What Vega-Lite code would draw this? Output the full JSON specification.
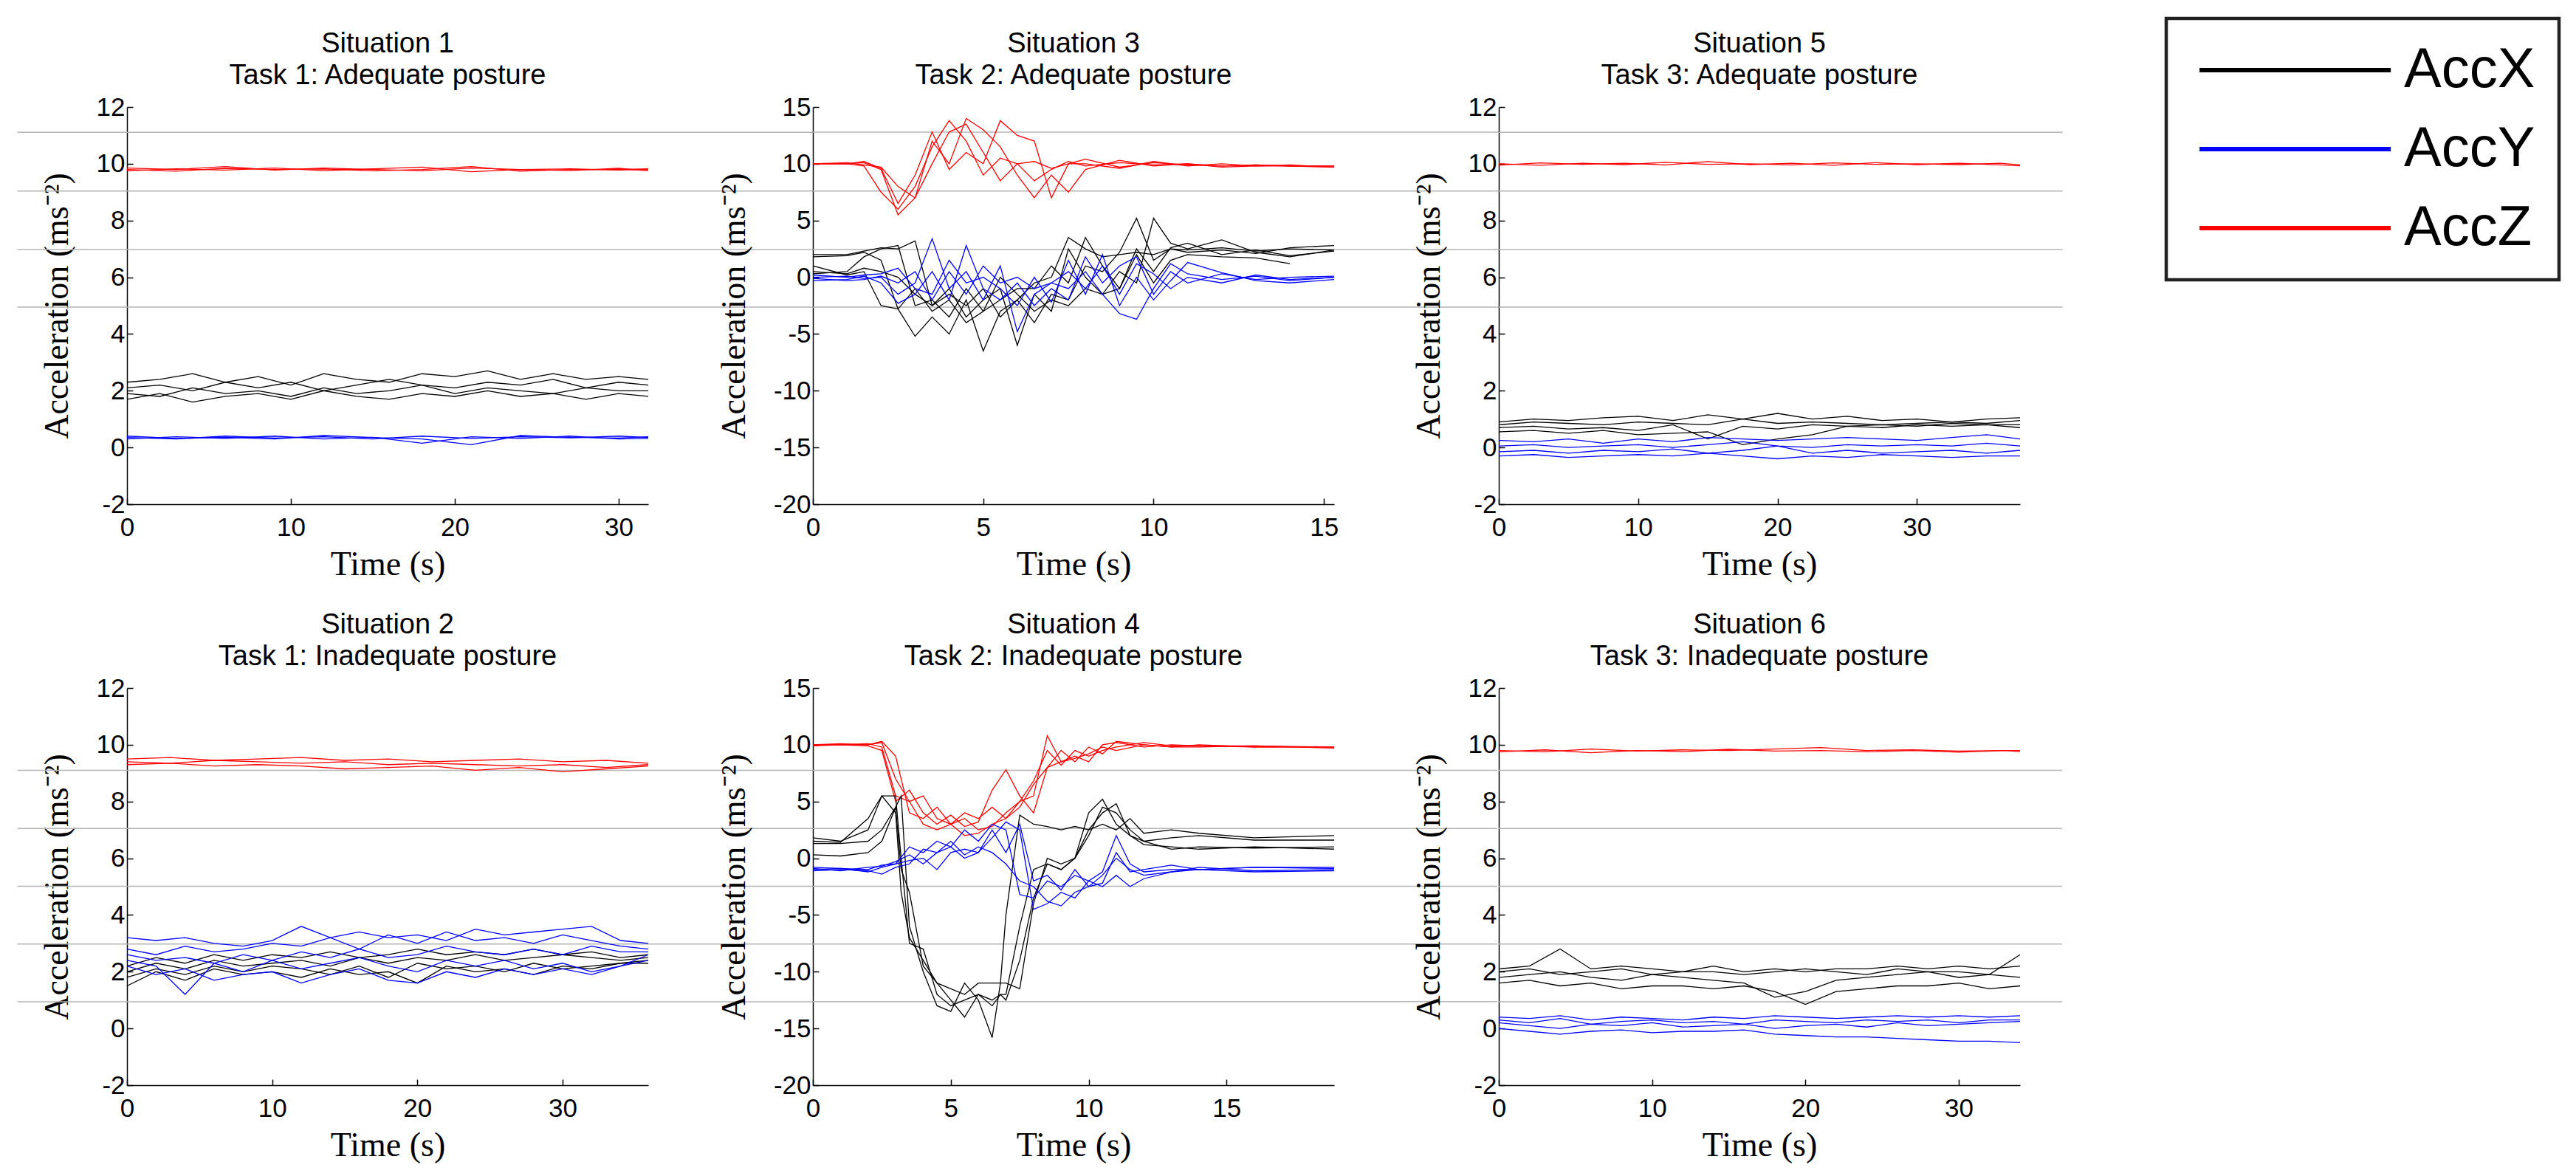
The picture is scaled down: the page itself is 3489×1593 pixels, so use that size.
{
"$schema": "https://vega.github.io/schema/vega-lite/v6.json",
"background": "white",
"padding": {"left": 22, "top": 22, "right": 5, "bottom": 5},
"columns": 3,
"bounds": "flush",
"spacing": {"row": 249, "column": 223},
"config": {
  "view": {"stroke": null},
  "font": "Liberation Sans",
  "title": {"font": "Liberation Sans", "fontSize": 38, "fontWeight": "normal", "color": "#000000", "lineHeight": 43, "offset": 6, "frame": "group", "anchor": "middle"},
  "axis": {"labelFont": "Liberation Sans", "labelFontSize": 35, "labelColor": "#000000", "titleFont": "Liberation Serif", "titleFontSize": 46, "titleFontWeight": "normal", "titleColor": "#000000", "domainColor": "#000000", "domainWidth": 1.5, "tickColor": "#000000", "tickWidth": 1.5, "tickSize": -8, "grid": false, "labelFlush": false, "labelOverlap": false},
  "axisX": {"labelPadding": 22, "titlePadding": 10},
  "axisY": {"labelPadding": 11, "titlePadding": 29},
  "legend": {"symbolType": "M-1,0H9", "symbolSize": 2684, "symbolStrokeWidth": 6, "labelFont": "Liberation Sans", "labelFontSize": 76, "labelColor": "#000000", "labelOffset": 213, "labelLimit": 0, "padding": 32, "symbolOffset": 1, "rowPadding": 31, "strokeColor": "#222222", "strokeWidth": 4.5, "fillColor": "#ffffff"}
},
"datasets": {
"grid": [
{"p":1,"y":11.11,"a":-6.69,"b":41.84},{"p":1,"y":9.04,"a":-6.69,"b":41.84},{"p":1,"y":6.98,"a":-6.69,"b":41.84},{"p":1,"y":4.95,"a":-6.69,"b":41.84},
{"p":3,"y":12.78,"a":0,"b":20.13},{"p":3,"y":7.6,"a":0,"b":20.13},{"p":3,"y":2.45,"a":0,"b":20.13},{"p":3,"y":-2.63,"a":0,"b":20.13},
{"p":5,"y":11.11,"a":0,"b":40.45},{"p":5,"y":9.04,"a":0,"b":40.45},{"p":5,"y":6.98,"a":0,"b":40.45},{"p":5,"y":4.95,"a":0,"b":40.45},
{"p":2,"y":9.1,"a":-7.55,"b":47.22},{"p":2,"y":7.05,"a":-7.55,"b":47.22},{"p":2,"y":5.01,"a":-7.55,"b":47.22},{"p":2,"y":2.98,"a":-7.55,"b":47.22},{"p":2,"y":0.94,"a":-7.55,"b":47.22},
{"p":4,"y":7.74,"a":0,"b":24.82},{"p":4,"y":2.63,"a":0,"b":24.82},{"p":4,"y":-2.46,"a":0,"b":24.82},{"p":4,"y":-7.55,"a":0,"b":24.82},{"p":4,"y":-12.64,"a":0,"b":24.82},
{"p":6,"y":9.1,"a":0,"b":36.74},{"p":6,"y":7.05,"a":0,"b":36.74},{"p":6,"y":5.01,"a":0,"b":36.74},{"p":6,"y":2.98,"a":0,"b":36.74},{"p":6,"y":0.94,"a":0,"b":36.74}
],
"s1": [
{"s":"AccZ","r":1,"t":0,"v":9.85},{"s":"AccZ","r":1,"t":3,"v":9.8},{"s":"AccZ","r":1,"t":6,"v":9.9},{"s":"AccZ","r":1,"t":9,"v":9.78},{"s":"AccZ","r":1,"t":12,"v":9.85},{"s":"AccZ","r":1,"t":15,"v":9.8},{"s":"AccZ","r":1,"t":18,"v":9.75},{"s":"AccZ","r":1,"t":21,"v":9.85},{"s":"AccZ","r":1,"t":24,"v":9.8},{"s":"AccZ","r":1,"t":27,"v":9.82},{"s":"AccZ","r":1,"t":30,"v":9.78},{"s":"AccZ","r":1,"t":31.8,"v":9.8},
{"s":"AccZ","r":2,"t":0,"v":9.75},{"s":"AccZ","r":2,"t":3,"v":9.82},{"s":"AccZ","r":2,"t":6,"v":9.78},{"s":"AccZ","r":2,"t":9,"v":9.85},{"s":"AccZ","r":2,"t":12,"v":9.76},{"s":"AccZ","r":2,"t":15,"v":9.82},{"s":"AccZ","r":2,"t":18,"v":9.88},{"s":"AccZ","r":2,"t":21,"v":9.72},{"s":"AccZ","r":2,"t":24,"v":9.8},{"s":"AccZ","r":2,"t":27,"v":9.76},{"s":"AccZ","r":2,"t":30,"v":9.84},{"s":"AccZ","r":2,"t":31.8,"v":9.75},
{"s":"AccZ","r":3,"t":0,"v":9.8},{"s":"AccZ","r":3,"t":3,"v":9.74},{"s":"AccZ","r":3,"t":6,"v":9.84},{"s":"AccZ","r":3,"t":9,"v":9.8},{"s":"AccZ","r":3,"t":12,"v":9.82},{"s":"AccZ","r":3,"t":15,"v":9.75},{"s":"AccZ","r":3,"t":18,"v":9.8},{"s":"AccZ","r":3,"t":21,"v":9.9},{"s":"AccZ","r":3,"t":24,"v":9.74},{"s":"AccZ","r":3,"t":27,"v":9.8},{"s":"AccZ","r":3,"t":30,"v":9.8},{"s":"AccZ","r":3,"t":31.8,"v":9.82},
{"s":"AccY","r":1,"t":0,"v":0.35},{"s":"AccY","r":1,"t":3,"v":0.3},{"s":"AccY","r":1,"t":6,"v":0.4},{"s":"AccY","r":1,"t":9,"v":0.33},{"s":"AccY","r":1,"t":12,"v":0.38},{"s":"AccY","r":1,"t":15,"v":0.3},{"s":"AccY","r":1,"t":18,"v":0.4},{"s":"AccY","r":1,"t":21,"v":0.32},{"s":"AccY","r":1,"t":24,"v":0.38},{"s":"AccY","r":1,"t":27,"v":0.34},{"s":"AccY","r":1,"t":30,"v":0.4},{"s":"AccY","r":1,"t":31.8,"v":0.35},
{"s":"AccY","r":2,"t":0,"v":0.3},{"s":"AccY","r":2,"t":3,"v":0.38},{"s":"AccY","r":2,"t":6,"v":0.32},{"s":"AccY","r":2,"t":9,"v":0.4},{"s":"AccY","r":2,"t":12,"v":0.3},{"s":"AccY","r":2,"t":15,"v":0.36},{"s":"AccY","r":2,"t":18,"v":0.15},{"s":"AccY","r":2,"t":21,"v":0.38},{"s":"AccY","r":2,"t":24,"v":0.32},{"s":"AccY","r":2,"t":27,"v":0.4},{"s":"AccY","r":2,"t":30,"v":0.3},{"s":"AccY","r":2,"t":31.8,"v":0.32},
{"s":"AccY","r":3,"t":0,"v":0.4},{"s":"AccY","r":3,"t":3,"v":0.32},{"s":"AccY","r":3,"t":6,"v":0.36},{"s":"AccY","r":3,"t":9,"v":0.3},{"s":"AccY","r":3,"t":12,"v":0.42},{"s":"AccY","r":3,"t":15,"v":0.35},{"s":"AccY","r":3,"t":18,"v":0.3},{"s":"AccY","r":3,"t":21,"v":0.1},{"s":"AccY","r":3,"t":24,"v":0.42},{"s":"AccY","r":3,"t":27,"v":0.36},{"s":"AccY","r":3,"t":30,"v":0.33},{"s":"AccY","r":3,"t":31.8,"v":0.38},
{"s":"AccX","r":1,"t":0,"v":2.3},{"s":"AccX","r":1,"t":2,"v":2.4},{"s":"AccX","r":1,"t":4,"v":2.6},{"s":"AccX","r":1,"t":6,"v":2.3},{"s":"AccX","r":1,"t":8,"v":2.5},{"s":"AccX","r":1,"t":10,"v":2.2},{"s":"AccX","r":1,"t":12,"v":2.6},{"s":"AccX","r":1,"t":14,"v":2.4},{"s":"AccX","r":1,"t":16,"v":2.3},{"s":"AccX","r":1,"t":18,"v":2.6},{"s":"AccX","r":1,"t":20,"v":2.5},{"s":"AccX","r":1,"t":22,"v":2.7},{"s":"AccX","r":1,"t":24,"v":2.4},{"s":"AccX","r":1,"t":26,"v":2.6},{"s":"AccX","r":1,"t":28,"v":2.4},{"s":"AccX","r":1,"t":30,"v":2.5},{"s":"AccX","r":1,"t":31.8,"v":2.4},
{"s":"AccX","r":2,"t":0,"v":2.1},{"s":"AccX","r":2,"t":2,"v":2.2},{"s":"AccX","r":2,"t":4,"v":2.0},{"s":"AccX","r":2,"t":6,"v":2.3},{"s":"AccX","r":2,"t":8,"v":2.1},{"s":"AccX","r":2,"t":10,"v":2.3},{"s":"AccX","r":2,"t":12,"v":2.0},{"s":"AccX","r":2,"t":14,"v":2.2},{"s":"AccX","r":2,"t":16,"v":2.4},{"s":"AccX","r":2,"t":18,"v":2.2},{"s":"AccX","r":2,"t":20,"v":2.1},{"s":"AccX","r":2,"t":22,"v":2.3},{"s":"AccX","r":2,"t":24,"v":2.2},{"s":"AccX","r":2,"t":26,"v":2.4},{"s":"AccX","r":2,"t":28,"v":2.1},{"s":"AccX","r":2,"t":30,"v":2.3},{"s":"AccX","r":2,"t":31.8,"v":2.2},
{"s":"AccX","r":3,"t":0,"v":1.9},{"s":"AccX","r":3,"t":2,"v":1.8},{"s":"AccX","r":3,"t":4,"v":2.1},{"s":"AccX","r":3,"t":6,"v":1.9},{"s":"AccX","r":3,"t":8,"v":2.0},{"s":"AccX","r":3,"t":10,"v":1.8},{"s":"AccX","r":3,"t":12,"v":2.1},{"s":"AccX","r":3,"t":14,"v":1.9},{"s":"AccX","r":3,"t":16,"v":2.0},{"s":"AccX","r":3,"t":18,"v":2.2},{"s":"AccX","r":3,"t":20,"v":1.9},{"s":"AccX","r":3,"t":22,"v":2.1},{"s":"AccX","r":3,"t":24,"v":2.0},{"s":"AccX","r":3,"t":26,"v":1.9},{"s":"AccX","r":3,"t":28,"v":2.1},{"s":"AccX","r":3,"t":30,"v":2.0},{"s":"AccX","r":3,"t":31.8,"v":2.0},
{"s":"AccX","r":4,"t":0,"v":1.7},{"s":"AccX","r":4,"t":2,"v":1.9},{"s":"AccX","r":4,"t":4,"v":1.6},{"s":"AccX","r":4,"t":6,"v":1.8},{"s":"AccX","r":4,"t":8,"v":1.9},{"s":"AccX","r":4,"t":10,"v":1.7},{"s":"AccX","r":4,"t":12,"v":2.0},{"s":"AccX","r":4,"t":14,"v":1.8},{"s":"AccX","r":4,"t":16,"v":1.7},{"s":"AccX","r":4,"t":18,"v":1.9},{"s":"AccX","r":4,"t":20,"v":1.8},{"s":"AccX","r":4,"t":22,"v":2.0},{"s":"AccX","r":4,"t":24,"v":1.8},{"s":"AccX","r":4,"t":26,"v":1.9},{"s":"AccX","r":4,"t":28,"v":1.7},{"s":"AccX","r":4,"t":30,"v":1.9},{"s":"AccX","r":4,"t":31.8,"v":1.8}
],
"s3": [
{"s":"AccZ","r":1,"t":0,"v":10},{"s":"AccZ","r":1,"t":1,"v":10},{"s":"AccZ","r":1,"t":1.5,"v":9.8},{"s":"AccZ","r":1,"t":2,"v":7.5},{"s":"AccZ","r":1,"t":2.5,"v":6},{"s":"AccZ","r":1,"t":3,"v":8},{"s":"AccZ","r":1,"t":3.5,"v":11.5},{"s":"AccZ","r":1,"t":4,"v":13.8},{"s":"AccZ","r":1,"t":4.5,"v":12},{"s":"AccZ","r":1,"t":5,"v":9},{"s":"AccZ","r":1,"t":5.5,"v":10.5},{"s":"AccZ","r":1,"t":6,"v":10},{"s":"AccZ","r":1,"t":6.5,"v":8.5},{"s":"AccZ","r":1,"t":7,"v":9.5},{"s":"AccZ","r":1,"t":7.5,"v":10.2},{"s":"AccZ","r":1,"t":8,"v":9.8},{"s":"AccZ","r":1,"t":9,"v":10.1},{"s":"AccZ","r":1,"t":10,"v":9.9},{"s":"AccZ","r":1,"t":11,"v":10},{"s":"AccZ","r":1,"t":12,"v":9.8},{"s":"AccZ","r":1,"t":13,"v":9.9},{"s":"AccZ","r":1,"t":14,"v":9.8},{"s":"AccZ","r":1,"t":15.3,"v":9.7},
{"s":"AccZ","r":2,"t":0,"v":10},{"s":"AccZ","r":2,"t":1,"v":10},{"s":"AccZ","r":2,"t":1.5,"v":10.1},{"s":"AccZ","r":2,"t":2,"v":9.5},{"s":"AccZ","r":2,"t":2.5,"v":5.5},{"s":"AccZ","r":2,"t":3,"v":7},{"s":"AccZ","r":2,"t":3.5,"v":10},{"s":"AccZ","r":2,"t":4,"v":12.8},{"s":"AccZ","r":2,"t":4.5,"v":13.5},{"s":"AccZ","r":2,"t":5,"v":11},{"s":"AccZ","r":2,"t":5.5,"v":8.5},{"s":"AccZ","r":2,"t":6,"v":10},{"s":"AccZ","r":2,"t":6.5,"v":10.2},{"s":"AccZ","r":2,"t":7,"v":9.6},{"s":"AccZ","r":2,"t":7.5,"v":10},{"s":"AccZ","r":2,"t":8,"v":10.4},{"s":"AccZ","r":2,"t":9,"v":9.7},{"s":"AccZ","r":2,"t":10,"v":10.1},{"s":"AccZ","r":2,"t":11,"v":9.9},{"s":"AccZ","r":2,"t":12,"v":9.8},{"s":"AccZ","r":2,"t":13,"v":9.9},{"s":"AccZ","r":2,"t":14,"v":9.8},{"s":"AccZ","r":2,"t":15.3,"v":9.8},
{"s":"AccZ","r":3,"t":0,"v":10},{"s":"AccZ","r":3,"t":1,"v":10.1},{"s":"AccZ","r":3,"t":1.5,"v":9.9},{"s":"AccZ","r":3,"t":2,"v":9.7},{"s":"AccZ","r":3,"t":2.5,"v":8},{"s":"AccZ","r":3,"t":3,"v":7},{"s":"AccZ","r":3,"t":3.5,"v":12},{"s":"AccZ","r":3,"t":4,"v":10},{"s":"AccZ","r":3,"t":4.5,"v":14},{"s":"AccZ","r":3,"t":5,"v":13},{"s":"AccZ","r":3,"t":5.5,"v":11.5},{"s":"AccZ","r":3,"t":6,"v":9},{"s":"AccZ","r":3,"t":6.5,"v":7},{"s":"AccZ","r":3,"t":7,"v":9},{"s":"AccZ","r":3,"t":7.5,"v":7.5},{"s":"AccZ","r":3,"t":8,"v":9.5},{"s":"AccZ","r":3,"t":9,"v":10.3},{"s":"AccZ","r":3,"t":10,"v":9.8},{"s":"AccZ","r":3,"t":11,"v":10},{"s":"AccZ","r":3,"t":12,"v":9.7},{"s":"AccZ","r":3,"t":13,"v":9.8},{"s":"AccZ","r":3,"t":14,"v":9.9},{"s":"AccZ","r":3,"t":15.3,"v":9.7},
{"s":"AccZ","r":4,"t":0,"v":10},{"s":"AccZ","r":4,"t":1,"v":10},{"s":"AccZ","r":4,"t":1.5,"v":10.2},{"s":"AccZ","r":4,"t":2,"v":9.6},{"s":"AccZ","r":4,"t":2.5,"v":6.5},{"s":"AccZ","r":4,"t":3,"v":9},{"s":"AccZ","r":4,"t":3.5,"v":12.8},{"s":"AccZ","r":4,"t":4,"v":9.5},{"s":"AccZ","r":4,"t":4.5,"v":11},{"s":"AccZ","r":4,"t":5,"v":10},{"s":"AccZ","r":4,"t":5.5,"v":13.8},{"s":"AccZ","r":4,"t":6,"v":12.5},{"s":"AccZ","r":4,"t":6.5,"v":12},{"s":"AccZ","r":4,"t":7,"v":7},{"s":"AccZ","r":4,"t":7.5,"v":10},{"s":"AccZ","r":4,"t":8,"v":10},{"s":"AccZ","r":4,"t":9,"v":9.6},{"s":"AccZ","r":4,"t":10,"v":10.2},{"s":"AccZ","r":4,"t":11,"v":9.8},{"s":"AccZ","r":4,"t":12,"v":10},{"s":"AccZ","r":4,"t":13,"v":9.8},{"s":"AccZ","r":4,"t":14,"v":9.8},{"s":"AccZ","r":4,"t":15.3,"v":9.8},
{"s":"AccX","r":1,"t":0,"v":2},{"s":"AccX","r":1,"t":1,"v":2},{"s":"AccX","r":1,"t":1.5,"v":2.3},{"s":"AccX","r":1,"t":2,"v":2.6},{"s":"AccX","r":1,"t":2.5,"v":2.5},{"s":"AccX","r":1,"t":3,"v":3.2},{"s":"AccX","r":1,"t":3.5,"v":-2.5},{"s":"AccX","r":1,"t":4,"v":-1.5},{"s":"AccX","r":1,"t":4.5,"v":-2.5},{"s":"AccX","r":1,"t":5,"v":-1},{"s":"AccX","r":1,"t":5.5,"v":-3.5},{"s":"AccX","r":1,"t":6,"v":-2},{"s":"AccX","r":1,"t":6.5,"v":-0.5},{"s":"AccX","r":1,"t":7,"v":0},{"s":"AccX","r":1,"t":7.5,"v":3.5},{"s":"AccX","r":1,"t":8,"v":2.5},{"s":"AccX","r":1,"t":8.5,"v":1.8},{"s":"AccX","r":1,"t":9,"v":2},{"s":"AccX","r":1,"t":9.5,"v":2.2},{"s":"AccX","r":1,"t":10,"v":2},{"s":"AccX","r":1,"t":10.5,"v":2.5},{"s":"AccX","r":1,"t":11,"v":2.2},{"s":"AccX","r":1,"t":12,"v":2.4},{"s":"AccX","r":1,"t":13,"v":2.1},{"s":"AccX","r":1,"t":14,"v":2.6},{"s":"AccX","r":1,"t":15.3,"v":2.8},
{"s":"AccX","r":2,"t":0,"v":1.8},{"s":"AccX","r":2,"t":1,"v":1.9},{"s":"AccX","r":2,"t":1.5,"v":2.2},{"s":"AccX","r":2,"t":2,"v":1.5},{"s":"AccX","r":2,"t":2.5,"v":-2.8},{"s":"AccX","r":2,"t":3,"v":-5.2},{"s":"AccX","r":2,"t":3.5,"v":-3.5},{"s":"AccX","r":2,"t":4,"v":-5},{"s":"AccX","r":2,"t":4.5,"v":-2},{"s":"AccX","r":2,"t":5,"v":-6.5},{"s":"AccX","r":2,"t":5.5,"v":-3},{"s":"AccX","r":2,"t":6,"v":-2},{"s":"AccX","r":2,"t":6.5,"v":-4},{"s":"AccX","r":2,"t":7,"v":-1.5},{"s":"AccX","r":2,"t":7.5,"v":-2},{"s":"AccX","r":2,"t":8,"v":1},{"s":"AccX","r":2,"t":8.5,"v":0.5},{"s":"AccX","r":2,"t":9,"v":2.2},{"s":"AccX","r":2,"t":9.5,"v":5.2},{"s":"AccX","r":2,"t":10,"v":1.5},{"s":"AccX","r":2,"t":10.5,"v":2.5},{"s":"AccX","r":2,"t":11,"v":2.4},{"s":"AccX","r":2,"t":12,"v":2.6},{"s":"AccX","r":2,"t":13,"v":2.3},{"s":"AccX","r":2,"t":14,"v":2.5},{"s":"AccX","r":2,"t":15.3,"v":2.4},
{"s":"AccX","r":3,"t":0,"v":0.5},{"s":"AccX","r":3,"t":1,"v":0.3},{"s":"AccX","r":3,"t":1.5,"v":0.8},{"s":"AccX","r":3,"t":2,"v":0.5},{"s":"AccX","r":3,"t":2.5,"v":0},{"s":"AccX","r":3,"t":3,"v":-1.5},{"s":"AccX","r":3,"t":3.5,"v":-2.5},{"s":"AccX","r":3,"t":4,"v":-1},{"s":"AccX","r":3,"t":4.5,"v":-3.5},{"s":"AccX","r":3,"t":5,"v":-2},{"s":"AccX","r":3,"t":5.5,"v":-1},{"s":"AccX","r":3,"t":6,"v":-6},{"s":"AccX","r":3,"t":6.5,"v":-1.5},{"s":"AccX","r":3,"t":7,"v":-3},{"s":"AccX","r":3,"t":7.5,"v":2.5},{"s":"AccX","r":3,"t":8,"v":0},{"s":"AccX","r":3,"t":8.5,"v":-1.5},{"s":"AccX","r":3,"t":9,"v":0.5},{"s":"AccX","r":3,"t":9.5,"v":-0.5},{"s":"AccX","r":3,"t":10,"v":5.2},{"s":"AccX","r":3,"t":10.5,"v":3},{"s":"AccX","r":3,"t":11,"v":2.5},{"s":"AccX","r":3,"t":12,"v":3.3},{"s":"AccX","r":3,"t":13,"v":2.2},{"s":"AccX","r":3,"t":14,"v":1.8},{"s":"AccX","r":3,"t":15.3,"v":2.4},
{"s":"AccX","r":4,"t":0,"v":1},{"s":"AccX","r":4,"t":1,"v":0.2},{"s":"AccX","r":4,"t":1.5,"v":0.5},{"s":"AccX","r":4,"t":2,"v":-2.5},{"s":"AccX","r":4,"t":2.5,"v":-2.8},{"s":"AccX","r":4,"t":3,"v":-1},{"s":"AccX","r":4,"t":3.5,"v":-3},{"s":"AccX","r":4,"t":4,"v":-2},{"s":"AccX","r":4,"t":4.5,"v":-4},{"s":"AccX","r":4,"t":5,"v":-3},{"s":"AccX","r":4,"t":5.5,"v":0},{"s":"AccX","r":4,"t":6,"v":-1.5},{"s":"AccX","r":4,"t":6.5,"v":-3},{"s":"AccX","r":4,"t":7,"v":-2},{"s":"AccX","r":4,"t":7.5,"v":-2.5},{"s":"AccX","r":4,"t":8,"v":-1},{"s":"AccX","r":4,"t":8.5,"v":-1.5},{"s":"AccX","r":4,"t":9,"v":-1},{"s":"AccX","r":4,"t":9.5,"v":2},{"s":"AccX","r":4,"t":10,"v":-0.5},{"s":"AccX","r":4,"t":10.5,"v":1.5},{"s":"AccX","r":4,"t":11,"v":2},{"s":"AccX","r":4,"t":12,"v":1.8},{"s":"AccX","r":4,"t":13,"v":1.7},{"s":"AccX","r":4,"t":14,"v":1.2},
{"s":"AccX","r":5,"t":0,"v":0.3},{"s":"AccX","r":5,"t":1,"v":0.5},{"s":"AccX","r":5,"t":1.5,"v":1.8},{"s":"AccX","r":5,"t":2,"v":2.5},{"s":"AccX","r":5,"t":2.5,"v":2.8},{"s":"AccX","r":5,"t":3,"v":-2.5},{"s":"AccX","r":5,"t":3.5,"v":-2},{"s":"AccX","r":5,"t":4,"v":-3.5},{"s":"AccX","r":5,"t":4.5,"v":-1},{"s":"AccX","r":5,"t":5,"v":-3},{"s":"AccX","r":5,"t":5.5,"v":-2},{"s":"AccX","r":5,"t":6,"v":-1},{"s":"AccX","r":5,"t":6.5,"v":-1},{"s":"AccX","r":5,"t":7,"v":1},{"s":"AccX","r":5,"t":7.5,"v":-0.5},{"s":"AccX","r":5,"t":8,"v":3.5},{"s":"AccX","r":5,"t":8.5,"v":1},{"s":"AccX","r":5,"t":9,"v":-1},{"s":"AccX","r":5,"t":9.5,"v":2.5},{"s":"AccX","r":5,"t":10,"v":0.5},{"s":"AccX","r":5,"t":10.5,"v":2.6},{"s":"AccX","r":5,"t":11,"v":3},{"s":"AccX","r":5,"t":12,"v":2},{"s":"AccX","r":5,"t":13,"v":2.4},{"s":"AccX","r":5,"t":14,"v":1.9},{"s":"AccX","r":5,"t":15.3,"v":2.3},
{"s":"AccY","r":1,"t":0,"v":0},{"s":"AccY","r":1,"t":1,"v":0.1},{"s":"AccY","r":1,"t":1.5,"v":-0.1},{"s":"AccY","r":1,"t":2,"v":0},{"s":"AccY","r":1,"t":2.5,"v":-1.5},{"s":"AccY","r":1,"t":3,"v":-0.5},{"s":"AccY","r":1,"t":3.5,"v":3.4},{"s":"AccY","r":1,"t":4,"v":-1},{"s":"AccY","r":1,"t":4.5,"v":0.5},{"s":"AccY","r":1,"t":5,"v":-2},{"s":"AccY","r":1,"t":5.5,"v":1},{"s":"AccY","r":1,"t":6,"v":-4.8},{"s":"AccY","r":1,"t":6.5,"v":-1.5},{"s":"AccY","r":1,"t":7,"v":-0.5},{"s":"AccY","r":1,"t":7.5,"v":-1},{"s":"AccY","r":1,"t":8,"v":0.5},{"s":"AccY","r":1,"t":8.5,"v":-1.5},{"s":"AccY","r":1,"t":9,"v":-3.2},{"s":"AccY","r":1,"t":9.5,"v":-3.7},{"s":"AccY","r":1,"t":10,"v":-1},{"s":"AccY","r":1,"t":10.5,"v":1.2},{"s":"AccY","r":1,"t":11,"v":0.3},{"s":"AccY","r":1,"t":12,"v":-0.2},{"s":"AccY","r":1,"t":13,"v":0.1},{"s":"AccY","r":1,"t":14,"v":-0.3},{"s":"AccY","r":1,"t":15.3,"v":0},
{"s":"AccY","r":2,"t":0,"v":-0.3},{"s":"AccY","r":2,"t":1,"v":-0.2},{"s":"AccY","r":2,"t":1.5,"v":0.1},{"s":"AccY","r":2,"t":2,"v":-0.5},{"s":"AccY","r":2,"t":2.5,"v":-2.3},{"s":"AccY","r":2,"t":3,"v":-1.5},{"s":"AccY","r":2,"t":3.5,"v":0.5},{"s":"AccY","r":2,"t":4,"v":-2},{"s":"AccY","r":2,"t":4.5,"v":2.8},{"s":"AccY","r":2,"t":5,"v":-1},{"s":"AccY","r":2,"t":5.5,"v":-2},{"s":"AccY","r":2,"t":6,"v":-0.5},{"s":"AccY","r":2,"t":6.5,"v":-2.5},{"s":"AccY","r":2,"t":7,"v":-1},{"s":"AccY","r":2,"t":7.5,"v":-2},{"s":"AccY","r":2,"t":8,"v":1.8},{"s":"AccY","r":2,"t":8.5,"v":-0.5},{"s":"AccY","r":2,"t":9,"v":1},{"s":"AccY","r":2,"t":9.5,"v":1.8},{"s":"AccY","r":2,"t":10,"v":-1.5},{"s":"AccY","r":2,"t":10.5,"v":0.5},{"s":"AccY","r":2,"t":11,"v":-0.5},{"s":"AccY","r":2,"t":12,"v":0.3},{"s":"AccY","r":2,"t":13,"v":-0.2},{"s":"AccY","r":2,"t":14,"v":0},{"s":"AccY","r":2,"t":15.3,"v":0.1},
{"s":"AccY","r":3,"t":0,"v":0.2},{"s":"AccY","r":3,"t":1,"v":0},{"s":"AccY","r":3,"t":1.5,"v":0.2},{"s":"AccY","r":3,"t":2,"v":0.3},{"s":"AccY","r":3,"t":2.5,"v":0.8},{"s":"AccY","r":3,"t":3,"v":-1},{"s":"AccY","r":3,"t":3.5,"v":-1.5},{"s":"AccY","r":3,"t":4,"v":1.5},{"s":"AccY","r":3,"t":4.5,"v":-0.5},{"s":"AccY","r":3,"t":5,"v":0},{"s":"AccY","r":3,"t":5.5,"v":-1},{"s":"AccY","r":3,"t":6,"v":-2.5},{"s":"AccY","r":3,"t":6.5,"v":0},{"s":"AccY","r":3,"t":7,"v":-2.2},{"s":"AccY","r":3,"t":7.5,"v":1.5},{"s":"AccY","r":3,"t":8,"v":-1.5},{"s":"AccY","r":3,"t":8.5,"v":2},{"s":"AccY","r":3,"t":9,"v":-2.5},{"s":"AccY","r":3,"t":9.5,"v":0},{"s":"AccY","r":3,"t":10,"v":-2},{"s":"AccY","r":3,"t":10.5,"v":-0.3},{"s":"AccY","r":3,"t":11,"v":1.3},{"s":"AccY","r":3,"t":12,"v":0.4},{"s":"AccY","r":3,"t":13,"v":-0.3},{"s":"AccY","r":3,"t":14,"v":-0.5},{"s":"AccY","r":3,"t":15.3,"v":-0.2},
{"s":"AccY","r":4,"t":0,"v":-0.1},{"s":"AccY","r":4,"t":1,"v":-0.3},{"s":"AccY","r":4,"t":1.5,"v":-0.2},{"s":"AccY","r":4,"t":2,"v":0.1},{"s":"AccY","r":4,"t":2.5,"v":-0.5},{"s":"AccY","r":4,"t":3,"v":0.5},{"s":"AccY","r":4,"t":3.5,"v":-2},{"s":"AccY","r":4,"t":4,"v":0.5},{"s":"AccY","r":4,"t":4.5,"v":-1.5},{"s":"AccY","r":4,"t":5,"v":1},{"s":"AccY","r":4,"t":5.5,"v":-0.5},{"s":"AccY","r":4,"t":6,"v":0},{"s":"AccY","r":4,"t":6.5,"v":-1},{"s":"AccY","r":4,"t":7,"v":-0.5},{"s":"AccY","r":4,"t":7.5,"v":0.5},{"s":"AccY","r":4,"t":8,"v":-1},{"s":"AccY","r":4,"t":8.5,"v":1},{"s":"AccY","r":4,"t":9,"v":-1.5},{"s":"AccY","r":4,"t":9.5,"v":1.2},{"s":"AccY","r":4,"t":10,"v":0.3},{"s":"AccY","r":4,"t":10.5,"v":-1},{"s":"AccY","r":4,"t":11,"v":0},{"s":"AccY","r":4,"t":12,"v":-0.5},{"s":"AccY","r":4,"t":13,"v":0.2},{"s":"AccY","r":4,"t":14,"v":-0.2},{"s":"AccY","r":4,"t":15.3,"v":0}
],
"s5": [
{"s":"AccZ","r":1,"t":0,"v":10},{"s":"AccZ","r":1,"t":3,"v":9.95},{"s":"AccZ","r":1,"t":6,"v":10.02},{"s":"AccZ","r":1,"t":9,"v":9.97},{"s":"AccZ","r":1,"t":12,"v":10.05},{"s":"AccZ","r":1,"t":15,"v":9.98},{"s":"AccZ","r":1,"t":18,"v":10},{"s":"AccZ","r":1,"t":21,"v":9.96},{"s":"AccZ","r":1,"t":24,"v":10.03},{"s":"AccZ","r":1,"t":27,"v":9.98},{"s":"AccZ","r":1,"t":30,"v":10},{"s":"AccZ","r":1,"t":33,"v":9.97},{"s":"AccZ","r":1,"t":36,"v":10.02},{"s":"AccZ","r":1,"t":37.4,"v":9.96},
{"s":"AccZ","r":2,"t":0,"v":9.95},{"s":"AccZ","r":2,"t":3,"v":10.03},{"s":"AccZ","r":2,"t":6,"v":9.98},{"s":"AccZ","r":2,"t":9,"v":10.02},{"s":"AccZ","r":2,"t":12,"v":9.96},{"s":"AccZ","r":2,"t":15,"v":10.08},{"s":"AccZ","r":2,"t":18,"v":9.97},{"s":"AccZ","r":2,"t":21,"v":10.02},{"s":"AccZ","r":2,"t":24,"v":9.95},{"s":"AccZ","r":2,"t":27,"v":10.04},{"s":"AccZ","r":2,"t":30,"v":9.97},{"s":"AccZ","r":2,"t":33,"v":10.02},{"s":"AccZ","r":2,"t":36,"v":9.96},{"s":"AccZ","r":2,"t":37.4,"v":9.93},
{"s":"AccX","r":1,"t":0,"v":0.9},{"s":"AccX","r":1,"t":2.5,"v":1.0},{"s":"AccX","r":1,"t":5,"v":0.95},{"s":"AccX","r":1,"t":7.5,"v":1.05},{"s":"AccX","r":1,"t":10,"v":1.1},{"s":"AccX","r":1,"t":12.5,"v":0.95},{"s":"AccX","r":1,"t":15,"v":1.15},{"s":"AccX","r":1,"t":17.5,"v":1.0},{"s":"AccX","r":1,"t":20,"v":1.2},{"s":"AccX","r":1,"t":22.5,"v":1.0},{"s":"AccX","r":1,"t":25,"v":1.1},{"s":"AccX","r":1,"t":27.5,"v":0.95},{"s":"AccX","r":1,"t":30,"v":1.0},{"s":"AccX","r":1,"t":32.5,"v":0.9},{"s":"AccX","r":1,"t":35,"v":1.0},{"s":"AccX","r":1,"t":37.4,"v":1.05},
{"s":"AccX","r":2,"t":0,"v":0.8},{"s":"AccX","r":2,"t":2.5,"v":0.9},{"s":"AccX","r":2,"t":5,"v":0.85},{"s":"AccX","r":2,"t":7.5,"v":0.8},{"s":"AccX","r":2,"t":10,"v":0.9},{"s":"AccX","r":2,"t":12.5,"v":0.85},{"s":"AccX","r":2,"t":15,"v":0.8},{"s":"AccX","r":2,"t":17.5,"v":1.0},{"s":"AccX","r":2,"t":20,"v":0.85},{"s":"AccX","r":2,"t":22.5,"v":0.9},{"s":"AccX","r":2,"t":25,"v":0.85},{"s":"AccX","r":2,"t":27.5,"v":0.8},{"s":"AccX","r":2,"t":30,"v":0.85},{"s":"AccX","r":2,"t":32.5,"v":0.9},{"s":"AccX","r":2,"t":35,"v":0.85},{"s":"AccX","r":2,"t":37.4,"v":0.95},
{"s":"AccX","r":3,"t":0,"v":0.7},{"s":"AccX","r":3,"t":2.5,"v":0.75},{"s":"AccX","r":3,"t":5,"v":0.65},{"s":"AccX","r":3,"t":7.5,"v":0.7},{"s":"AccX","r":3,"t":10,"v":0.6},{"s":"AccX","r":3,"t":12.5,"v":0.8},{"s":"AccX","r":3,"t":15,"v":0.3},{"s":"AccX","r":3,"t":17.5,"v":0.75},{"s":"AccX","r":3,"t":20,"v":0.65},{"s":"AccX","r":3,"t":22.5,"v":0.8},{"s":"AccX","r":3,"t":25,"v":0.75},{"s":"AccX","r":3,"t":27.5,"v":0.8},{"s":"AccX","r":3,"t":30,"v":0.75},{"s":"AccX","r":3,"t":32.5,"v":0.85},{"s":"AccX","r":3,"t":35,"v":0.8},{"s":"AccX","r":3,"t":37.4,"v":0.8},
{"s":"AccX","r":4,"t":0,"v":0.55},{"s":"AccX","r":4,"t":2.5,"v":0.6},{"s":"AccX","r":4,"t":5,"v":0.5},{"s":"AccX","r":4,"t":7.5,"v":0.6},{"s":"AccX","r":4,"t":10,"v":0.45},{"s":"AccX","r":4,"t":12.5,"v":0.5},{"s":"AccX","r":4,"t":15,"v":0.55},{"s":"AccX","r":4,"t":17.5,"v":0.1},{"s":"AccX","r":4,"t":20,"v":0.3},{"s":"AccX","r":4,"t":22.5,"v":0.45},{"s":"AccX","r":4,"t":25,"v":0.75},{"s":"AccX","r":4,"t":27.5,"v":0.7},{"s":"AccX","r":4,"t":30,"v":0.8},{"s":"AccX","r":4,"t":32.5,"v":0.75},{"s":"AccX","r":4,"t":35,"v":0.8},{"s":"AccX","r":4,"t":37.4,"v":0.7},
{"s":"AccY","r":1,"t":0,"v":0.25},{"s":"AccY","r":1,"t":2.5,"v":0.2},{"s":"AccY","r":1,"t":5,"v":0.3},{"s":"AccY","r":1,"t":7.5,"v":0.15},{"s":"AccY","r":1,"t":10,"v":0.3},{"s":"AccY","r":1,"t":12.5,"v":0.2},{"s":"AccY","r":1,"t":15,"v":0.35},{"s":"AccY","r":1,"t":17.5,"v":0.3},{"s":"AccY","r":1,"t":20,"v":0.25},{"s":"AccY","r":1,"t":22.5,"v":0.3},{"s":"AccY","r":1,"t":25,"v":0.35},{"s":"AccY","r":1,"t":27.5,"v":0.3},{"s":"AccY","r":1,"t":30,"v":0.25},{"s":"AccY","r":1,"t":32.5,"v":0.35},{"s":"AccY","r":1,"t":35,"v":0.45},{"s":"AccY","r":1,"t":37.4,"v":0.3},
{"s":"AccY","r":2,"t":0,"v":0.05},{"s":"AccY","r":2,"t":2.5,"v":0.1},{"s":"AccY","r":2,"t":5,"v":0},{"s":"AccY","r":2,"t":7.5,"v":0.05},{"s":"AccY","r":2,"t":10,"v":0.1},{"s":"AccY","r":2,"t":12.5,"v":0},{"s":"AccY","r":2,"t":15,"v":0.1},{"s":"AccY","r":2,"t":17.5,"v":0.2},{"s":"AccY","r":2,"t":20,"v":0.05},{"s":"AccY","r":2,"t":22.5,"v":0},{"s":"AccY","r":2,"t":25,"v":0.1},{"s":"AccY","r":2,"t":27.5,"v":0.05},{"s":"AccY","r":2,"t":30,"v":0.1},{"s":"AccY","r":2,"t":32.5,"v":0.05},{"s":"AccY","r":2,"t":35,"v":0.15},{"s":"AccY","r":2,"t":37.4,"v":0.05},
{"s":"AccY","r":3,"t":0,"v":-0.15},{"s":"AccY","r":3,"t":2.5,"v":-0.1},{"s":"AccY","r":3,"t":5,"v":-0.2},{"s":"AccY","r":3,"t":7.5,"v":-0.1},{"s":"AccY","r":3,"t":10,"v":-0.15},{"s":"AccY","r":3,"t":12.5,"v":-0.05},{"s":"AccY","r":3,"t":15,"v":-0.2},{"s":"AccY","r":3,"t":17.5,"v":-0.1},{"s":"AccY","r":3,"t":20,"v":0.05},{"s":"AccY","r":3,"t":22.5,"v":-0.2},{"s":"AccY","r":3,"t":25,"v":-0.1},{"s":"AccY","r":3,"t":27.5,"v":-0.2},{"s":"AccY","r":3,"t":30,"v":-0.15},{"s":"AccY","r":3,"t":32.5,"v":-0.1},{"s":"AccY","r":3,"t":35,"v":-0.2},{"s":"AccY","r":3,"t":37.4,"v":-0.1},
{"s":"AccY","r":4,"t":0,"v":-0.3},{"s":"AccY","r":4,"t":2.5,"v":-0.25},{"s":"AccY","r":4,"t":5,"v":-0.35},{"s":"AccY","r":4,"t":7.5,"v":-0.3},{"s":"AccY","r":4,"t":10,"v":-0.25},{"s":"AccY","r":4,"t":12.5,"v":-0.3},{"s":"AccY","r":4,"t":15,"v":-0.2},{"s":"AccY","r":4,"t":17.5,"v":-0.3},{"s":"AccY","r":4,"t":20,"v":-0.4},{"s":"AccY","r":4,"t":22.5,"v":-0.3},{"s":"AccY","r":4,"t":25,"v":-0.35},{"s":"AccY","r":4,"t":27.5,"v":-0.25},{"s":"AccY","r":4,"t":30,"v":-0.3},{"s":"AccY","r":4,"t":32.5,"v":-0.35},{"s":"AccY","r":4,"t":35,"v":-0.3},{"s":"AccY","r":4,"t":37.4,"v":-0.3}
],
"s2": [
{"s":"AccZ","r":1,"t":0,"v":9.5},{"s":"AccZ","r":1,"t":3,"v":9.55},{"s":"AccZ","r":1,"t":6,"v":9.45},{"s":"AccZ","r":1,"t":9,"v":9.5},{"s":"AccZ","r":1,"t":12,"v":9.55},{"s":"AccZ","r":1,"t":15,"v":9.45},{"s":"AccZ","r":1,"t":18,"v":9.5},{"s":"AccZ","r":1,"t":21,"v":9.4},{"s":"AccZ","r":1,"t":24,"v":9.45},{"s":"AccZ","r":1,"t":27,"v":9.5},{"s":"AccZ","r":1,"t":30,"v":9.4},{"s":"AccZ","r":1,"t":33,"v":9.45},{"s":"AccZ","r":1,"t":35.9,"v":9.35},
{"s":"AccZ","r":2,"t":0,"v":9.4},{"s":"AccZ","r":2,"t":3,"v":9.35},{"s":"AccZ","r":2,"t":6,"v":9.45},{"s":"AccZ","r":2,"t":9,"v":9.4},{"s":"AccZ","r":2,"t":12,"v":9.35},{"s":"AccZ","r":2,"t":15,"v":9.4},{"s":"AccZ","r":2,"t":18,"v":9.3},{"s":"AccZ","r":2,"t":21,"v":9.35},{"s":"AccZ","r":2,"t":24,"v":9.3},{"s":"AccZ","r":2,"t":27,"v":9.25},{"s":"AccZ","r":2,"t":30,"v":9.3},{"s":"AccZ","r":2,"t":33,"v":9.2},{"s":"AccZ","r":2,"t":35.9,"v":9.3},
{"s":"AccZ","r":3,"t":0,"v":9.3},{"s":"AccZ","r":3,"t":3,"v":9.35},{"s":"AccZ","r":3,"t":6,"v":9.25},{"s":"AccZ","r":3,"t":9,"v":9.3},{"s":"AccZ","r":3,"t":12,"v":9.25},{"s":"AccZ","r":3,"t":15,"v":9.15},{"s":"AccZ","r":3,"t":18,"v":9.2},{"s":"AccZ","r":3,"t":21,"v":9.25},{"s":"AccZ","r":3,"t":24,"v":9.1},{"s":"AccZ","r":3,"t":27,"v":9.2},{"s":"AccZ","r":3,"t":30,"v":9.05},{"s":"AccZ","r":3,"t":33,"v":9.15},{"s":"AccZ","r":3,"t":35.9,"v":9.25},
{"s":"AccX","r":1,"t":0,"v":2.2},{"s":"AccX","r":1,"t":2,"v":2.5},{"s":"AccX","r":1,"t":4,"v":2.3},{"s":"AccX","r":1,"t":6,"v":2.6},{"s":"AccX","r":1,"t":8,"v":2.4},{"s":"AccX","r":1,"t":10,"v":2.6},{"s":"AccX","r":1,"t":12,"v":2.5},{"s":"AccX","r":1,"t":14,"v":2.7},{"s":"AccX","r":1,"t":16,"v":2.5},{"s":"AccX","r":1,"t":18,"v":2.6},{"s":"AccX","r":1,"t":20,"v":2.8},{"s":"AccX","r":1,"t":22,"v":2.6},{"s":"AccX","r":1,"t":24,"v":2.7},{"s":"AccX","r":1,"t":26,"v":2.6},{"s":"AccX","r":1,"t":28,"v":2.8},{"s":"AccX","r":1,"t":30,"v":2.6},{"s":"AccX","r":1,"t":32,"v":2.7},{"s":"AccX","r":1,"t":34,"v":2.5},{"s":"AccX","r":1,"t":35.9,"v":2.6},
{"s":"AccX","r":2,"t":0,"v":2.0},{"s":"AccX","r":2,"t":2,"v":2.3},{"s":"AccX","r":2,"t":4,"v":2.1},{"s":"AccX","r":2,"t":6,"v":2.4},{"s":"AccX","r":2,"t":8,"v":2.2},{"s":"AccX","r":2,"t":10,"v":2.3},{"s":"AccX","r":2,"t":12,"v":2.4},{"s":"AccX","r":2,"t":14,"v":2.2},{"s":"AccX","r":2,"t":16,"v":2.5},{"s":"AccX","r":2,"t":18,"v":2.3},{"s":"AccX","r":2,"t":20,"v":2.5},{"s":"AccX","r":2,"t":22,"v":2.4},{"s":"AccX","r":2,"t":24,"v":2.6},{"s":"AccX","r":2,"t":26,"v":2.4},{"s":"AccX","r":2,"t":28,"v":2.5},{"s":"AccX","r":2,"t":30,"v":2.6},{"s":"AccX","r":2,"t":32,"v":2.5},{"s":"AccX","r":2,"t":34,"v":2.4},{"s":"AccX","r":2,"t":35.9,"v":2.5},
{"s":"AccX","r":3,"t":0,"v":1.8},{"s":"AccX","r":3,"t":2,"v":2.1},{"s":"AccX","r":3,"t":4,"v":1.9},{"s":"AccX","r":3,"t":6,"v":2.2},{"s":"AccX","r":3,"t":8,"v":2.0},{"s":"AccX","r":3,"t":10,"v":2.2},{"s":"AccX","r":3,"t":12,"v":2.1},{"s":"AccX","r":3,"t":14,"v":1.9},{"s":"AccX","r":3,"t":16,"v":2.2},{"s":"AccX","r":3,"t":18,"v":1.8},{"s":"AccX","r":3,"t":20,"v":2.3},{"s":"AccX","r":3,"t":22,"v":2.1},{"s":"AccX","r":3,"t":24,"v":2.2},{"s":"AccX","r":3,"t":26,"v":2.0},{"s":"AccX","r":3,"t":28,"v":2.3},{"s":"AccX","r":3,"t":30,"v":2.1},{"s":"AccX","r":3,"t":32,"v":2.2},{"s":"AccX","r":3,"t":34,"v":2.3},{"s":"AccX","r":3,"t":35.9,"v":2.4},
{"s":"AccX","r":4,"t":0,"v":1.5},{"s":"AccX","r":4,"t":2,"v":2.0},{"s":"AccX","r":4,"t":4,"v":1.7},{"s":"AccX","r":4,"t":6,"v":2.1},{"s":"AccX","r":4,"t":8,"v":1.9},{"s":"AccX","r":4,"t":10,"v":2.0},{"s":"AccX","r":4,"t":12,"v":1.8},{"s":"AccX","r":4,"t":14,"v":2.1},{"s":"AccX","r":4,"t":16,"v":1.9},{"s":"AccX","r":4,"t":18,"v":2.0},{"s":"AccX","r":4,"t":20,"v":1.6},{"s":"AccX","r":4,"t":22,"v":2.2},{"s":"AccX","r":4,"t":24,"v":2.0},{"s":"AccX","r":4,"t":26,"v":2.1},{"s":"AccX","r":4,"t":28,"v":1.9},{"s":"AccX","r":4,"t":30,"v":2.2},{"s":"AccX","r":4,"t":32,"v":2.1},{"s":"AccX","r":4,"t":34,"v":2.3},{"s":"AccX","r":4,"t":35.9,"v":2.3},
{"s":"AccY","r":1,"t":0,"v":3.2},{"s":"AccY","r":1,"t":2,"v":3.1},{"s":"AccY","r":1,"t":4,"v":3.2},{"s":"AccY","r":1,"t":6,"v":3.0},{"s":"AccY","r":1,"t":8,"v":2.9},{"s":"AccY","r":1,"t":10,"v":3.1},{"s":"AccY","r":1,"t":12,"v":3.6},{"s":"AccY","r":1,"t":14,"v":3.2},{"s":"AccY","r":1,"t":16,"v":3.4},{"s":"AccY","r":1,"t":18,"v":3.2},{"s":"AccY","r":1,"t":20,"v":3.3},{"s":"AccY","r":1,"t":22,"v":3.1},{"s":"AccY","r":1,"t":24,"v":3.5},{"s":"AccY","r":1,"t":26,"v":3.3},{"s":"AccY","r":1,"t":28,"v":3.4},{"s":"AccY","r":1,"t":30,"v":3.5},{"s":"AccY","r":1,"t":32,"v":3.6},{"s":"AccY","r":1,"t":34,"v":3.1},{"s":"AccY","r":1,"t":35.9,"v":3.0},
{"s":"AccY","r":2,"t":0,"v":2.8},{"s":"AccY","r":2,"t":2,"v":2.6},{"s":"AccY","r":2,"t":4,"v":2.9},{"s":"AccY","r":2,"t":6,"v":2.7},{"s":"AccY","r":2,"t":8,"v":2.8},{"s":"AccY","r":2,"t":10,"v":3.0},{"s":"AccY","r":2,"t":12,"v":2.9},{"s":"AccY","r":2,"t":14,"v":3.2},{"s":"AccY","r":2,"t":16,"v":2.8},{"s":"AccY","r":2,"t":18,"v":3.3},{"s":"AccY","r":2,"t":20,"v":3.0},{"s":"AccY","r":2,"t":22,"v":3.4},{"s":"AccY","r":2,"t":24,"v":3.1},{"s":"AccY","r":2,"t":26,"v":3.2},{"s":"AccY","r":2,"t":28,"v":3.0},{"s":"AccY","r":2,"t":30,"v":3.3},{"s":"AccY","r":2,"t":32,"v":3.1},{"s":"AccY","r":2,"t":34,"v":2.9},{"s":"AccY","r":2,"t":35.9,"v":2.8},
{"s":"AccY","r":3,"t":0,"v":2.6},{"s":"AccY","r":3,"t":2,"v":2.4},{"s":"AccY","r":3,"t":4,"v":2.5},{"s":"AccY","r":3,"t":6,"v":2.3},{"s":"AccY","r":3,"t":8,"v":2.6},{"s":"AccY","r":3,"t":10,"v":2.4},{"s":"AccY","r":3,"t":12,"v":2.7},{"s":"AccY","r":3,"t":14,"v":2.5},{"s":"AccY","r":3,"t":16,"v":2.8},{"s":"AccY","r":3,"t":18,"v":2.5},{"s":"AccY","r":3,"t":20,"v":2.6},{"s":"AccY","r":3,"t":22,"v":2.9},{"s":"AccY","r":3,"t":24,"v":2.7},{"s":"AccY","r":3,"t":26,"v":2.6},{"s":"AccY","r":3,"t":28,"v":2.8},{"s":"AccY","r":3,"t":30,"v":2.6},{"s":"AccY","r":3,"t":32,"v":2.9},{"s":"AccY","r":3,"t":34,"v":2.7},{"s":"AccY","r":3,"t":35.9,"v":2.7},
{"s":"AccY","r":4,"t":0,"v":2.4},{"s":"AccY","r":4,"t":2,"v":2.2},{"s":"AccY","r":4,"t":4,"v":1.2},{"s":"AccY","r":4,"t":6,"v":2.3},{"s":"AccY","r":4,"t":8,"v":2.0},{"s":"AccY","r":4,"t":10,"v":2.4},{"s":"AccY","r":4,"t":12,"v":2.1},{"s":"AccY","r":4,"t":14,"v":2.3},{"s":"AccY","r":4,"t":16,"v":2.5},{"s":"AccY","r":4,"t":18,"v":2.2},{"s":"AccY","r":4,"t":20,"v":2.0},{"s":"AccY","r":4,"t":22,"v":2.4},{"s":"AccY","r":4,"t":24,"v":2.2},{"s":"AccY","r":4,"t":26,"v":2.4},{"s":"AccY","r":4,"t":28,"v":2.1},{"s":"AccY","r":4,"t":30,"v":2.3},{"s":"AccY","r":4,"t":32,"v":2.0},{"s":"AccY","r":4,"t":34,"v":2.2},{"s":"AccY","r":4,"t":35.9,"v":2.6},
{"s":"AccY","r":5,"t":0,"v":2.2},{"s":"AccY","r":5,"t":2,"v":1.9},{"s":"AccY","r":5,"t":4,"v":2.1},{"s":"AccY","r":5,"t":6,"v":1.7},{"s":"AccY","r":5,"t":8,"v":1.9},{"s":"AccY","r":5,"t":10,"v":2.0},{"s":"AccY","r":5,"t":12,"v":1.6},{"s":"AccY","r":5,"t":14,"v":1.9},{"s":"AccY","r":5,"t":16,"v":2.1},{"s":"AccY","r":5,"t":18,"v":1.7},{"s":"AccY","r":5,"t":20,"v":1.6},{"s":"AccY","r":5,"t":22,"v":2.0},{"s":"AccY","r":5,"t":24,"v":1.8},{"s":"AccY","r":5,"t":26,"v":2.1},{"s":"AccY","r":5,"t":28,"v":1.9},{"s":"AccY","r":5,"t":30,"v":2.1},{"s":"AccY","r":5,"t":32,"v":1.9},{"s":"AccY","r":5,"t":34,"v":2.2},{"s":"AccY","r":5,"t":35.9,"v":2.4}
],
"s4": [
{"s":"AccZ","r":1,"t":0,"v":10},{"s":"AccZ","r":1,"t":1,"v":10},{"s":"AccZ","r":1,"t":2,"v":10},{"s":"AccZ","r":1,"t":2.5,"v":10.2},{"s":"AccZ","r":1,"t":3,"v":7},{"s":"AccZ","r":1,"t":3.5,"v":5},{"s":"AccZ","r":1,"t":4,"v":5.5},{"s":"AccZ","r":1,"t":4.5,"v":3.5},{"s":"AccZ","r":1,"t":5,"v":3},{"s":"AccZ","r":1,"t":5.5,"v":3.5},{"s":"AccZ","r":1,"t":6,"v":2.5},{"s":"AccZ","r":1,"t":6.5,"v":2.8},{"s":"AccZ","r":1,"t":7,"v":4},{"s":"AccZ","r":1,"t":7.5,"v":5},{"s":"AccZ","r":1,"t":8,"v":5.5},{"s":"AccZ","r":1,"t":8.5,"v":10.8},{"s":"AccZ","r":1,"t":9,"v":8.5},{"s":"AccZ","r":1,"t":9.5,"v":9},{"s":"AccZ","r":1,"t":10,"v":8.5},{"s":"AccZ","r":1,"t":10.5,"v":10},{"s":"AccZ","r":1,"t":11,"v":10.2},{"s":"AccZ","r":1,"t":12,"v":9.8},{"s":"AccZ","r":1,"t":13,"v":10},{"s":"AccZ","r":1,"t":14,"v":9.9},{"s":"AccZ","r":1,"t":16,"v":9.9},{"s":"AccZ","r":1,"t":18.9,"v":9.8},
{"s":"AccZ","r":2,"t":0,"v":10},{"s":"AccZ","r":2,"t":1,"v":10},{"s":"AccZ","r":2,"t":2,"v":9.9},{"s":"AccZ","r":2,"t":2.5,"v":9.5},{"s":"AccZ","r":2,"t":3,"v":5},{"s":"AccZ","r":2,"t":3.5,"v":6},{"s":"AccZ","r":2,"t":4,"v":4},{"s":"AccZ","r":2,"t":4.5,"v":3},{"s":"AccZ","r":2,"t":5,"v":3.8},{"s":"AccZ","r":2,"t":5.5,"v":2.8},{"s":"AccZ","r":2,"t":6,"v":3.2},{"s":"AccZ","r":2,"t":6.5,"v":6},{"s":"AccZ","r":2,"t":7,"v":7.8},{"s":"AccZ","r":2,"t":7.5,"v":5.5},{"s":"AccZ","r":2,"t":8,"v":4},{"s":"AccZ","r":2,"t":8.5,"v":8},{"s":"AccZ","r":2,"t":9,"v":9.5},{"s":"AccZ","r":2,"t":9.5,"v":8.5},{"s":"AccZ","r":2,"t":10,"v":9.8},{"s":"AccZ","r":2,"t":10.5,"v":9.2},{"s":"AccZ","r":2,"t":11,"v":10.3},{"s":"AccZ","r":2,"t":12,"v":10},{"s":"AccZ","r":2,"t":13,"v":9.8},{"s":"AccZ","r":2,"t":14,"v":10},{"s":"AccZ","r":2,"t":16,"v":9.8},{"s":"AccZ","r":2,"t":18.9,"v":9.8},
{"s":"AccZ","r":3,"t":0,"v":10},{"s":"AccZ","r":3,"t":1,"v":10.1},{"s":"AccZ","r":3,"t":2,"v":10},{"s":"AccZ","r":3,"t":2.5,"v":10.3},{"s":"AccZ","r":3,"t":3,"v":9},{"s":"AccZ","r":3,"t":3.5,"v":4},{"s":"AccZ","r":3,"t":4,"v":3.5},{"s":"AccZ","r":3,"t":4.5,"v":4.5},{"s":"AccZ","r":3,"t":5,"v":3},{"s":"AccZ","r":3,"t":5.5,"v":4},{"s":"AccZ","r":3,"t":6,"v":3.5},{"s":"AccZ","r":3,"t":6.5,"v":4.5},{"s":"AccZ","r":3,"t":7,"v":3.5},{"s":"AccZ","r":3,"t":7.5,"v":4.5},{"s":"AccZ","r":3,"t":8,"v":6.5},{"s":"AccZ","r":3,"t":8.5,"v":8},{"s":"AccZ","r":3,"t":9,"v":8.5},{"s":"AccZ","r":3,"t":9.5,"v":8.8},{"s":"AccZ","r":3,"t":10,"v":9.2},{"s":"AccZ","r":3,"t":10.5,"v":9.8},{"s":"AccZ","r":3,"t":11,"v":9.5},{"s":"AccZ","r":3,"t":12,"v":10},{"s":"AccZ","r":3,"t":13,"v":9.8},{"s":"AccZ","r":3,"t":14,"v":9.8},{"s":"AccZ","r":3,"t":16,"v":9.9},{"s":"AccZ","r":3,"t":18.9,"v":9.7},
{"s":"AccZ","r":4,"t":0,"v":9.9},{"s":"AccZ","r":4,"t":1,"v":10},{"s":"AccZ","r":4,"t":2,"v":10.1},{"s":"AccZ","r":4,"t":2.5,"v":9.8},{"s":"AccZ","r":4,"t":3,"v":5.5},{"s":"AccZ","r":4,"t":3.5,"v":5},{"s":"AccZ","r":4,"t":4,"v":3},{"s":"AccZ","r":4,"t":4.5,"v":2.5},{"s":"AccZ","r":4,"t":5,"v":3},{"s":"AccZ","r":4,"t":5.5,"v":2},{"s":"AccZ","r":4,"t":6,"v":2.2},{"s":"AccZ","r":4,"t":6.5,"v":3},{"s":"AccZ","r":4,"t":7,"v":3.5},{"s":"AccZ","r":4,"t":7.5,"v":5},{"s":"AccZ","r":4,"t":8,"v":6.8},{"s":"AccZ","r":4,"t":8.5,"v":9.5},{"s":"AccZ","r":4,"t":9,"v":8.2},{"s":"AccZ","r":4,"t":9.5,"v":9.5},{"s":"AccZ","r":4,"t":10,"v":9},{"s":"AccZ","r":4,"t":10.5,"v":9.5},{"s":"AccZ","r":4,"t":11,"v":9.8},{"s":"AccZ","r":4,"t":12,"v":10.2},{"s":"AccZ","r":4,"t":13,"v":9.9},{"s":"AccZ","r":4,"t":14,"v":9.9},{"s":"AccZ","r":4,"t":16,"v":9.8},{"s":"AccZ","r":4,"t":18.9,"v":9.8},
{"s":"AccX","r":1,"t":0,"v":1.8},{"s":"AccX","r":1,"t":1,"v":1.5},{"s":"AccX","r":1,"t":2,"v":2.5},{"s":"AccX","r":1,"t":2.5,"v":5.5},{"s":"AccX","r":1,"t":3,"v":4},{"s":"AccX","r":1,"t":3.2,"v":-3},{"s":"AccX","r":1,"t":3.5,"v":-7},{"s":"AccX","r":1,"t":4,"v":-9},{"s":"AccX","r":1,"t":4.5,"v":-11},{"s":"AccX","r":1,"t":5,"v":-11.5},{"s":"AccX","r":1,"t":5.5,"v":-12},{"s":"AccX","r":1,"t":6,"v":-11},{"s":"AccX","r":1,"t":6.5,"v":-11},{"s":"AccX","r":1,"t":6.8,"v":-11},{"s":"AccX","r":1,"t":7,"v":-5},{"s":"AccX","r":1,"t":7.5,"v":3.8},{"s":"AccX","r":1,"t":8,"v":3},{"s":"AccX","r":1,"t":8.5,"v":2.8},{"s":"AccX","r":1,"t":9,"v":2.5},{"s":"AccX","r":1,"t":9.5,"v":2.8},{"s":"AccX","r":1,"t":10,"v":2.5},{"s":"AccX","r":1,"t":10.5,"v":3},{"s":"AccX","r":1,"t":11,"v":2.5},{"s":"AccX","r":1,"t":11.5,"v":3.5},{"s":"AccX","r":1,"t":12,"v":2.2},{"s":"AccX","r":1,"t":13,"v":2.5},{"s":"AccX","r":1,"t":14,"v":2.2},{"s":"AccX","r":1,"t":16,"v":1.8},{"s":"AccX","r":1,"t":18.9,"v":2.0},
{"s":"AccX","r":2,"t":0,"v":1.5},{"s":"AccX","r":2,"t":1,"v":1.4},{"s":"AccX","r":2,"t":2,"v":3.5},{"s":"AccX","r":2,"t":2.5,"v":5.5},{"s":"AccX","r":2,"t":3,"v":5.5},{"s":"AccX","r":2,"t":3.2,"v":0},{"s":"AccX","r":2,"t":3.5,"v":-7.5},{"s":"AccX","r":2,"t":4,"v":-8},{"s":"AccX","r":2,"t":4.5,"v":-12},{"s":"AccX","r":2,"t":5,"v":-13},{"s":"AccX","r":2,"t":5.5,"v":-12.5},{"s":"AccX","r":2,"t":6,"v":-12},{"s":"AccX","r":2,"t":6.5,"v":-13},{"s":"AccX","r":2,"t":6.8,"v":-12},{"s":"AccX","r":2,"t":7,"v":-12},{"s":"AccX","r":2,"t":7.5,"v":-6},{"s":"AccX","r":2,"t":8,"v":-1},{"s":"AccX","r":2,"t":8.5,"v":-0.5},{"s":"AccX","r":2,"t":9,"v":-1},{"s":"AccX","r":2,"t":9.5,"v":0},{"s":"AccX","r":2,"t":10,"v":2},{"s":"AccX","r":2,"t":10.5,"v":4.5},{"s":"AccX","r":2,"t":11,"v":4},{"s":"AccX","r":2,"t":11.5,"v":2.5},{"s":"AccX","r":2,"t":12,"v":1.5},{"s":"AccX","r":2,"t":13,"v":1.8},{"s":"AccX","r":2,"t":14,"v":2},{"s":"AccX","r":2,"t":16,"v":1.6},{"s":"AccX","r":2,"t":18.9,"v":1.6},
{"s":"AccX","r":3,"t":0,"v":1.3},{"s":"AccX","r":3,"t":1,"v":1.3},{"s":"AccX","r":3,"t":2,"v":1.5},{"s":"AccX","r":3,"t":2.5,"v":2.5},{"s":"AccX","r":3,"t":3,"v":4.5},{"s":"AccX","r":3,"t":3.2,"v":5.5},{"s":"AccX","r":3,"t":3.5,"v":-6},{"s":"AccX","r":3,"t":4,"v":-10},{"s":"AccX","r":3,"t":4.5,"v":-13},{"s":"AccX","r":3,"t":5,"v":-13.5},{"s":"AccX","r":3,"t":5.5,"v":-11},{"s":"AccX","r":3,"t":6,"v":-12.5},{"s":"AccX","r":3,"t":6.5,"v":-15.8},{"s":"AccX","r":3,"t":6.8,"v":-11},{"s":"AccX","r":3,"t":7,"v":-11},{"s":"AccX","r":3,"t":7.5,"v":-11.5},{"s":"AccX","r":3,"t":8,"v":-4},{"s":"AccX","r":3,"t":8.5,"v":0},{"s":"AccX","r":3,"t":9,"v":-0.5},{"s":"AccX","r":3,"t":9.5,"v":0},{"s":"AccX","r":3,"t":10,"v":4},{"s":"AccX","r":3,"t":10.5,"v":5.2},{"s":"AccX","r":3,"t":11,"v":3},{"s":"AccX","r":3,"t":11.5,"v":2},{"s":"AccX","r":3,"t":12,"v":1.5},{"s":"AccX","r":3,"t":13,"v":0.8},{"s":"AccX","r":3,"t":14,"v":1},{"s":"AccX","r":3,"t":16,"v":0.9},{"s":"AccX","r":3,"t":18.9,"v":1.0},
{"s":"AccX","r":4,"t":0,"v":0.3},{"s":"AccX","r":4,"t":1,"v":0.2},{"s":"AccX","r":4,"t":2,"v":0.5},{"s":"AccX","r":4,"t":2.5,"v":1.5},{"s":"AccX","r":4,"t":3,"v":4.5},{"s":"AccX","r":4,"t":3.2,"v":-1},{"s":"AccX","r":4,"t":3.5,"v":-3},{"s":"AccX","r":4,"t":4,"v":-9.5},{"s":"AccX","r":4,"t":4.5,"v":-11},{"s":"AccX","r":4,"t":5,"v":-12.5},{"s":"AccX","r":4,"t":5.5,"v":-14},{"s":"AccX","r":4,"t":6,"v":-12},{"s":"AccX","r":4,"t":6.5,"v":-12.5},{"s":"AccX","r":4,"t":6.8,"v":-12},{"s":"AccX","r":4,"t":7,"v":-12.5},{"s":"AccX","r":4,"t":7.5,"v":-9},{"s":"AccX","r":4,"t":8,"v":-3.5},{"s":"AccX","r":4,"t":8.5,"v":-0.5},{"s":"AccX","r":4,"t":9,"v":-1},{"s":"AccX","r":4,"t":9.5,"v":0},{"s":"AccX","r":4,"t":10,"v":2.5},{"s":"AccX","r":4,"t":10.5,"v":4},{"s":"AccX","r":4,"t":11,"v":4.8},{"s":"AccX","r":4,"t":11.5,"v":2},{"s":"AccX","r":4,"t":12,"v":1.2},{"s":"AccX","r":4,"t":13,"v":1},{"s":"AccX","r":4,"t":14,"v":0.8},{"s":"AccX","r":4,"t":16,"v":1},{"s":"AccX","r":4,"t":18.9,"v":0.8},
{"s":"AccY","r":1,"t":0,"v":-0.8},{"s":"AccY","r":1,"t":1,"v":-0.9},{"s":"AccY","r":1,"t":2,"v":-1},{"s":"AccY","r":1,"t":2.5,"v":-0.6},{"s":"AccY","r":1,"t":3,"v":-0.5},{"s":"AccY","r":1,"t":3.5,"v":1},{"s":"AccY","r":1,"t":4,"v":0.5},{"s":"AccY","r":1,"t":4.5,"v":1.5},{"s":"AccY","r":1,"t":5,"v":1},{"s":"AccY","r":1,"t":5.5,"v":2.5},{"s":"AccY","r":1,"t":6,"v":1.5},{"s":"AccY","r":1,"t":6.5,"v":3},{"s":"AccY","r":1,"t":7,"v":2.5},{"s":"AccY","r":1,"t":7.5,"v":-3.2},{"s":"AccY","r":1,"t":8,"v":-3.5},{"s":"AccY","r":1,"t":8.5,"v":-2},{"s":"AccY","r":1,"t":9,"v":-2.5},{"s":"AccY","r":1,"t":9.5,"v":-1.5},{"s":"AccY","r":1,"t":10,"v":-2},{"s":"AccY","r":1,"t":10.5,"v":-1.2},{"s":"AccY","r":1,"t":11,"v":2},{"s":"AccY","r":1,"t":11.5,"v":-0.5},{"s":"AccY","r":1,"t":12,"v":-1.2},{"s":"AccY","r":1,"t":13,"v":-1},{"s":"AccY","r":1,"t":14,"v":-1},{"s":"AccY","r":1,"t":16,"v":-0.8},{"s":"AccY","r":1,"t":18.9,"v":-0.9},
{"s":"AccY","r":2,"t":0,"v":-1},{"s":"AccY","r":2,"t":1,"v":-0.9},{"s":"AccY","r":2,"t":2,"v":-1.2},{"s":"AccY","r":2,"t":2.5,"v":-0.8},{"s":"AccY","r":2,"t":3,"v":-0.5},{"s":"AccY","r":2,"t":3.5,"v":-0.2},{"s":"AccY","r":2,"t":4,"v":0},{"s":"AccY","r":2,"t":4.5,"v":-1},{"s":"AccY","r":2,"t":5,"v":0.5},{"s":"AccY","r":2,"t":5.5,"v":0.8},{"s":"AccY","r":2,"t":6,"v":0.5},{"s":"AccY","r":2,"t":6.5,"v":1.8},{"s":"AccY","r":2,"t":7,"v":3.2},{"s":"AccY","r":2,"t":7.5,"v":2.5},{"s":"AccY","r":2,"t":8,"v":-4.5},{"s":"AccY","r":2,"t":8.5,"v":-4},{"s":"AccY","r":2,"t":9,"v":-3},{"s":"AccY","r":2,"t":9.5,"v":-3.5},{"s":"AccY","r":2,"t":10,"v":-2},{"s":"AccY","r":2,"t":10.5,"v":-2.5},{"s":"AccY","r":2,"t":11,"v":-1.5},{"s":"AccY","r":2,"t":11.5,"v":-2.5},{"s":"AccY","r":2,"t":12,"v":-1.8},{"s":"AccY","r":2,"t":13,"v":-1.2},{"s":"AccY","r":2,"t":14,"v":-0.8},{"s":"AccY","r":2,"t":16,"v":-1.1},{"s":"AccY","r":2,"t":18.9,"v":-1.0},
{"s":"AccY","r":3,"t":0,"v":-1.1},{"s":"AccY","r":3,"t":1,"v":-1},{"s":"AccY","r":3,"t":2,"v":-1.1},{"s":"AccY","r":3,"t":2.5,"v":-1.4},{"s":"AccY","r":3,"t":3,"v":-0.8},{"s":"AccY","r":3,"t":3.5,"v":-0.5},{"s":"AccY","r":3,"t":4,"v":0.8},{"s":"AccY","r":3,"t":4.5,"v":0.5},{"s":"AccY","r":3,"t":5,"v":1.5},{"s":"AccY","r":3,"t":5.5,"v":0.3},{"s":"AccY","r":3,"t":6,"v":1},{"s":"AccY","r":3,"t":6.5,"v":0.5},{"s":"AccY","r":3,"t":7,"v":-0.5},{"s":"AccY","r":3,"t":7.5,"v":-2},{"s":"AccY","r":3,"t":8,"v":-2.5},{"s":"AccY","r":3,"t":8.5,"v":-3.8},{"s":"AccY","r":3,"t":9,"v":-4.2},{"s":"AccY","r":3,"t":9.5,"v":-3},{"s":"AccY","r":3,"t":10,"v":-2.5},{"s":"AccY","r":3,"t":10.5,"v":-1.5},{"s":"AccY","r":3,"t":11,"v":0},{"s":"AccY","r":3,"t":11.5,"v":-1},{"s":"AccY","r":3,"t":12,"v":-1.5},{"s":"AccY","r":3,"t":13,"v":-1.2},{"s":"AccY","r":3,"t":14,"v":-1},{"s":"AccY","r":3,"t":16,"v":-1.2},{"s":"AccY","r":3,"t":18.9,"v":-1.1},
{"s":"AccY","r":4,"t":0,"v":-0.9},{"s":"AccY","r":4,"t":1,"v":-1.1},{"s":"AccY","r":4,"t":2,"v":-0.8},{"s":"AccY","r":4,"t":2.5,"v":-0.7},{"s":"AccY","r":4,"t":3,"v":-0.3},{"s":"AccY","r":4,"t":3.5,"v":0.3},{"s":"AccY","r":4,"t":4,"v":-0.5},{"s":"AccY","r":4,"t":4.5,"v":0.5},{"s":"AccY","r":4,"t":5,"v":1},{"s":"AccY","r":4,"t":5.5,"v":0},{"s":"AccY","r":4,"t":6,"v":0.5},{"s":"AccY","r":4,"t":6.5,"v":2.5},{"s":"AccY","r":4,"t":7,"v":0.5},{"s":"AccY","r":4,"t":7.5,"v":3},{"s":"AccY","r":4,"t":8,"v":-2},{"s":"AccY","r":4,"t":8.5,"v":-1.5},{"s":"AccY","r":4,"t":9,"v":-2.8},{"s":"AccY","r":4,"t":9.5,"v":-1},{"s":"AccY","r":4,"t":10,"v":-2.5},{"s":"AccY","r":4,"t":10.5,"v":-2.2},{"s":"AccY","r":4,"t":11,"v":0.5},{"s":"AccY","r":4,"t":11.5,"v":-1.2},{"s":"AccY","r":4,"t":12,"v":-1},{"s":"AccY","r":4,"t":13,"v":-0.6},{"s":"AccY","r":4,"t":14,"v":-1},{"s":"AccY","r":4,"t":16,"v":-0.8},{"s":"AccY","r":4,"t":18.9,"v":-0.8}
],
"s6": [
{"s":"AccZ","r":1,"t":0,"v":9.8},{"s":"AccZ","r":1,"t":3,"v":9.75},{"s":"AccZ","r":1,"t":6,"v":9.85},{"s":"AccZ","r":1,"t":9,"v":9.78},{"s":"AccZ","r":1,"t":12,"v":9.82},{"s":"AccZ","r":1,"t":15,"v":9.8},{"s":"AccZ","r":1,"t":18,"v":9.85},{"s":"AccZ","r":1,"t":21,"v":9.9},{"s":"AccZ","r":1,"t":24,"v":9.8},{"s":"AccZ","r":1,"t":27,"v":9.82},{"s":"AccZ","r":1,"t":30,"v":9.78},{"s":"AccZ","r":1,"t":33,"v":9.8},{"s":"AccZ","r":1,"t":34,"v":9.8},
{"s":"AccZ","r":2,"t":0,"v":9.75},{"s":"AccZ","r":2,"t":3,"v":9.82},{"s":"AccZ","r":2,"t":6,"v":9.72},{"s":"AccZ","r":2,"t":9,"v":9.8},{"s":"AccZ","r":2,"t":12,"v":9.76},{"s":"AccZ","r":2,"t":15,"v":9.84},{"s":"AccZ","r":2,"t":18,"v":9.78},{"s":"AccZ","r":2,"t":21,"v":9.8},{"s":"AccZ","r":2,"t":24,"v":9.75},{"s":"AccZ","r":2,"t":27,"v":9.8},{"s":"AccZ","r":2,"t":30,"v":9.74},{"s":"AccZ","r":2,"t":33,"v":9.8},{"s":"AccZ","r":2,"t":34,"v":9.76},
{"s":"AccX","r":1,"t":0,"v":2.1},{"s":"AccX","r":1,"t":2,"v":2.2},{"s":"AccX","r":1,"t":4,"v":2.8},{"s":"AccX","r":1,"t":6,"v":2.1},{"s":"AccX","r":1,"t":8,"v":2.2},{"s":"AccX","r":1,"t":10,"v":2.1},{"s":"AccX","r":1,"t":12,"v":2.0},{"s":"AccX","r":1,"t":14,"v":2.2},{"s":"AccX","r":1,"t":16,"v":2.0},{"s":"AccX","r":1,"t":18,"v":2.1},{"s":"AccX","r":1,"t":20,"v":2.0},{"s":"AccX","r":1,"t":22,"v":2.1},{"s":"AccX","r":1,"t":24,"v":2.1},{"s":"AccX","r":1,"t":26,"v":2.2},{"s":"AccX","r":1,"t":28,"v":2.1},{"s":"AccX","r":1,"t":30,"v":2.2},{"s":"AccX","r":1,"t":32,"v":2.1},{"s":"AccX","r":1,"t":34,"v":2.2},
{"s":"AccX","r":2,"t":0,"v":2.0},{"s":"AccX","r":2,"t":2,"v":2.1},{"s":"AccX","r":2,"t":4,"v":1.9},{"s":"AccX","r":2,"t":6,"v":2.0},{"s":"AccX","r":2,"t":8,"v":2.1},{"s":"AccX","r":2,"t":10,"v":1.9},{"s":"AccX","r":2,"t":12,"v":2.0},{"s":"AccX","r":2,"t":14,"v":2.0},{"s":"AccX","r":2,"t":16,"v":1.9},{"s":"AccX","r":2,"t":18,"v":2.0},{"s":"AccX","r":2,"t":20,"v":2.1},{"s":"AccX","r":2,"t":22,"v":2.0},{"s":"AccX","r":2,"t":24,"v":1.9},{"s":"AccX","r":2,"t":26,"v":2.1},{"s":"AccX","r":2,"t":28,"v":2.0},{"s":"AccX","r":2,"t":30,"v":2.0},{"s":"AccX","r":2,"t":32,"v":1.9},{"s":"AccX","r":2,"t":34,"v":2.6},
{"s":"AccX","r":3,"t":0,"v":1.8},{"s":"AccX","r":3,"t":2,"v":1.9},{"s":"AccX","r":3,"t":4,"v":2.0},{"s":"AccX","r":3,"t":6,"v":1.8},{"s":"AccX","r":3,"t":8,"v":1.7},{"s":"AccX","r":3,"t":10,"v":1.9},{"s":"AccX","r":3,"t":12,"v":1.8},{"s":"AccX","r":3,"t":14,"v":1.7},{"s":"AccX","r":3,"t":16,"v":1.6},{"s":"AccX","r":3,"t":18,"v":1.1},{"s":"AccX","r":3,"t":20,"v":1.3},{"s":"AccX","r":3,"t":22,"v":1.7},{"s":"AccX","r":3,"t":24,"v":1.8},{"s":"AccX","r":3,"t":26,"v":1.9},{"s":"AccX","r":3,"t":28,"v":2.0},{"s":"AccX","r":3,"t":30,"v":1.8},{"s":"AccX","r":3,"t":32,"v":1.9},{"s":"AccX","r":3,"t":34,"v":1.8},
{"s":"AccX","r":4,"t":0,"v":1.6},{"s":"AccX","r":4,"t":2,"v":1.7},{"s":"AccX","r":4,"t":4,"v":1.5},{"s":"AccX","r":4,"t":6,"v":1.6},{"s":"AccX","r":4,"t":8,"v":1.4},{"s":"AccX","r":4,"t":10,"v":1.5},{"s":"AccX","r":4,"t":12,"v":1.5},{"s":"AccX","r":4,"t":14,"v":1.4},{"s":"AccX","r":4,"t":16,"v":1.5},{"s":"AccX","r":4,"t":18,"v":1.3},{"s":"AccX","r":4,"t":20,"v":0.85},{"s":"AccX","r":4,"t":22,"v":1.3},{"s":"AccX","r":4,"t":24,"v":1.4},{"s":"AccX","r":4,"t":26,"v":1.5},{"s":"AccX","r":4,"t":28,"v":1.5},{"s":"AccX","r":4,"t":30,"v":1.6},{"s":"AccX","r":4,"t":32,"v":1.4},{"s":"AccX","r":4,"t":34,"v":1.5},
{"s":"AccY","r":1,"t":0,"v":0.4},{"s":"AccY","r":1,"t":2,"v":0.35},{"s":"AccY","r":1,"t":4,"v":0.45},{"s":"AccY","r":1,"t":6,"v":0.3},{"s":"AccY","r":1,"t":8,"v":0.4},{"s":"AccY","r":1,"t":10,"v":0.35},{"s":"AccY","r":1,"t":12,"v":0.3},{"s":"AccY","r":1,"t":14,"v":0.4},{"s":"AccY","r":1,"t":16,"v":0.35},{"s":"AccY","r":1,"t":18,"v":0.45},{"s":"AccY","r":1,"t":20,"v":0.4},{"s":"AccY","r":1,"t":22,"v":0.35},{"s":"AccY","r":1,"t":24,"v":0.4},{"s":"AccY","r":1,"t":26,"v":0.45},{"s":"AccY","r":1,"t":28,"v":0.4},{"s":"AccY","r":1,"t":30,"v":0.45},{"s":"AccY","r":1,"t":32,"v":0.4},{"s":"AccY","r":1,"t":34,"v":0.45},
{"s":"AccY","r":2,"t":0,"v":0.3},{"s":"AccY","r":2,"t":2,"v":0.2},{"s":"AccY","r":2,"t":4,"v":0.35},{"s":"AccY","r":2,"t":6,"v":0.15},{"s":"AccY","r":2,"t":8,"v":0.25},{"s":"AccY","r":2,"t":10,"v":0.3},{"s":"AccY","r":2,"t":12,"v":0.2},{"s":"AccY","r":2,"t":14,"v":0.25},{"s":"AccY","r":2,"t":16,"v":0.15},{"s":"AccY","r":2,"t":18,"v":0.3},{"s":"AccY","r":2,"t":20,"v":0.25},{"s":"AccY","r":2,"t":22,"v":0.2},{"s":"AccY","r":2,"t":24,"v":0.3},{"s":"AccY","r":2,"t":26,"v":0.25},{"s":"AccY","r":2,"t":28,"v":0.3},{"s":"AccY","r":2,"t":30,"v":0.2},{"s":"AccY","r":2,"t":32,"v":0.3},{"s":"AccY","r":2,"t":34,"v":0.3},
{"s":"AccY","r":3,"t":0,"v":0.2},{"s":"AccY","r":3,"t":2,"v":0.1},{"s":"AccY","r":3,"t":4,"v":0},{"s":"AccY","r":3,"t":6,"v":0.15},{"s":"AccY","r":3,"t":8,"v":0.1},{"s":"AccY","r":3,"t":10,"v":0.2},{"s":"AccY","r":3,"t":12,"v":0.05},{"s":"AccY","r":3,"t":14,"v":0.1},{"s":"AccY","r":3,"t":16,"v":0.15},{"s":"AccY","r":3,"t":18,"v":0},{"s":"AccY","r":3,"t":20,"v":0.1},{"s":"AccY","r":3,"t":22,"v":0.15},{"s":"AccY","r":3,"t":24,"v":0.05},{"s":"AccY","r":3,"t":26,"v":0.2},{"s":"AccY","r":3,"t":28,"v":0.1},{"s":"AccY","r":3,"t":30,"v":0.15},{"s":"AccY","r":3,"t":32,"v":0.2},{"s":"AccY","r":3,"t":34,"v":0.25},
{"s":"AccY","r":4,"t":0,"v":0},{"s":"AccY","r":4,"t":2,"v":-0.1},{"s":"AccY","r":4,"t":4,"v":-0.2},{"s":"AccY","r":4,"t":6,"v":-0.1},{"s":"AccY","r":4,"t":8,"v":-0.05},{"s":"AccY","r":4,"t":10,"v":-0.15},{"s":"AccY","r":4,"t":12,"v":-0.1},{"s":"AccY","r":4,"t":14,"v":-0.1},{"s":"AccY","r":4,"t":16,"v":-0.05},{"s":"AccY","r":4,"t":18,"v":-0.2},{"s":"AccY","r":4,"t":20,"v":-0.25},{"s":"AccY","r":4,"t":22,"v":-0.3},{"s":"AccY","r":4,"t":24,"v":-0.3},{"s":"AccY","r":4,"t":26,"v":-0.35},{"s":"AccY","r":4,"t":28,"v":-0.4},{"s":"AccY","r":4,"t":30,"v":-0.45},{"s":"AccY","r":4,"t":32,"v":-0.45},{"s":"AccY","r":4,"t":34,"v":-0.5}
]
},
"concat": [
{"width": 706, "height": 538, "title": {"text": ["Situation 1", "Task 1: Adequate posture"]},
 "layer": [
  {"data": {"name": "grid"}, "transform": [{"filter": "datum.p == 1"}], "mark": {"type": "rule", "color": "#b4b4b4", "strokeWidth": 1.5, "clip": false},
   "encoding": {"x": {"field": "a", "type": "quantitative", "title": "Time (s)", "scale": {"domain": [0, 31.8], "nice": false}}, "x2": {"field": "b"}, "y": {"field": "y", "type": "quantitative", "title": "Acceleration (ms⁻²)", "scale": {"domain": [-2, 12], "nice": false}}}},
  {"data": {"name": "s1"}, "mark": {"type": "line", "clip": false, "strokeWidth": 1.3},
   "encoding": {"x": {"field": "t", "type": "quantitative", "title": "Time (s)", "scale": {"domain": [0, 31.8], "nice": false}, "axis": {"values": [0, 10, 20, 30]}},
    "y": {"field": "v", "type": "quantitative", "title": "Acceleration (ms⁻²)", "scale": {"domain": [-2, 12], "nice": false}, "axis": {"values": [-2, 0, 2, 4, 6, 8, 10, 12], "labelExpr": "datum.value < 0 ? '-' + abs(datum.value) : datum.label"}},
    "color": {"field": "s", "type": "nominal", "title": null, "scale": {"domain": ["AccX", "AccY", "AccZ"], "range": ["#000000", "#0000ff", "#ff0000"]}, "legend": {"orient": "none", "legendX": 2762, "legendY": -120, "encode": {"symbols": {"update": {"strokeWidth": {"value": 6}}}}}},
    "detail": {"field": "r"}}}
 ]},
{"width": 706, "height": 538, "title": {"text": ["Situation 3", "Task 2: Adequate posture"]},
 "layer": [
  {"data": {"name": "grid"}, "transform": [{"filter": "datum.p == 3"}], "mark": {"type": "rule", "color": "#b4b4b4", "strokeWidth": 1.5, "clip": false},
   "encoding": {"x": {"field": "a", "type": "quantitative", "title": "Time (s)", "scale": {"domain": [0, 15.3], "nice": false}}, "x2": {"field": "b"}, "y": {"field": "y", "type": "quantitative", "title": "Acceleration (ms⁻²)", "scale": {"domain": [-20, 15], "nice": false}}}},
  {"data": {"name": "s3"}, "mark": {"type": "line", "clip": false, "strokeWidth": 1.3},
   "encoding": {"x": {"field": "t", "type": "quantitative", "title": "Time (s)", "scale": {"domain": [0, 15.3], "nice": false}, "axis": {"values": [0, 5, 10, 15]}},
    "y": {"field": "v", "type": "quantitative", "title": "Acceleration (ms⁻²)", "scale": {"domain": [-20, 15], "nice": false}, "axis": {"values": [-20, -15, -10, -5, 0, 5, 10, 15], "labelExpr": "datum.value < 0 ? '-' + abs(datum.value) : datum.label"}},
    "color": {"field": "s", "type": "nominal", "title": null, "scale": {"domain": ["AccX", "AccY", "AccZ"], "range": ["#000000", "#0000ff", "#ff0000"]}, "legend": {"orient": "none", "legendX": 2762, "legendY": -120, "encode": {"symbols": {"update": {"strokeWidth": {"value": 6}}}}}},
    "detail": {"field": "r"}}}
 ]},
{"width": 706, "height": 538, "title": {"text": ["Situation 5", "Task 3: Adequate posture"]},
 "layer": [
  {"data": {"name": "grid"}, "transform": [{"filter": "datum.p == 5"}], "mark": {"type": "rule", "color": "#b4b4b4", "strokeWidth": 1.5, "clip": false},
   "encoding": {"x": {"field": "a", "type": "quantitative", "title": "Time (s)", "scale": {"domain": [0, 37.4], "nice": false}}, "x2": {"field": "b"}, "y": {"field": "y", "type": "quantitative", "title": "Acceleration (ms⁻²)", "scale": {"domain": [-2, 12], "nice": false}}}},
  {"data": {"name": "s5"}, "mark": {"type": "line", "clip": false, "strokeWidth": 1.3},
   "encoding": {"x": {"field": "t", "type": "quantitative", "title": "Time (s)", "scale": {"domain": [0, 37.4], "nice": false}, "axis": {"values": [0, 10, 20, 30]}},
    "y": {"field": "v", "type": "quantitative", "title": "Acceleration (ms⁻²)", "scale": {"domain": [-2, 12], "nice": false}, "axis": {"values": [-2, 0, 2, 4, 6, 8, 10, 12], "labelExpr": "datum.value < 0 ? '-' + abs(datum.value) : datum.label"}},
    "color": {"field": "s", "type": "nominal", "title": null, "scale": {"domain": ["AccX", "AccY", "AccZ"], "range": ["#000000", "#0000ff", "#ff0000"]}, "legend": {"orient": "none", "legendX": 2762, "legendY": -120, "encode": {"symbols": {"update": {"strokeWidth": {"value": 6}}}}}},
    "detail": {"field": "r"}}}
 ]},
{"width": 706, "height": 538, "title": {"text": ["Situation 2", "Task 1: Inadequate posture"]},
 "layer": [
  {"data": {"name": "grid"}, "transform": [{"filter": "datum.p == 2"}], "mark": {"type": "rule", "color": "#b4b4b4", "strokeWidth": 1.5, "clip": false},
   "encoding": {"x": {"field": "a", "type": "quantitative", "title": "Time (s)", "scale": {"domain": [0, 35.9], "nice": false}}, "x2": {"field": "b"}, "y": {"field": "y", "type": "quantitative", "title": "Acceleration (ms⁻²)", "scale": {"domain": [-2, 12], "nice": false}}}},
  {"data": {"name": "s2"}, "mark": {"type": "line", "clip": false, "strokeWidth": 1.3},
   "encoding": {"x": {"field": "t", "type": "quantitative", "title": "Time (s)", "scale": {"domain": [0, 35.9], "nice": false}, "axis": {"values": [0, 10, 20, 30]}},
    "y": {"field": "v", "type": "quantitative", "title": "Acceleration (ms⁻²)", "scale": {"domain": [-2, 12], "nice": false}, "axis": {"values": [-2, 0, 2, 4, 6, 8, 10, 12], "labelExpr": "datum.value < 0 ? '-' + abs(datum.value) : datum.label"}},
    "color": {"field": "s", "type": "nominal", "title": null, "scale": {"domain": ["AccX", "AccY", "AccZ"], "range": ["#000000", "#0000ff", "#ff0000"]}, "legend": {"orient": "none", "legendX": 2762, "legendY": -120, "encode": {"symbols": {"update": {"strokeWidth": {"value": 6}}}}}},
    "detail": {"field": "r"}}}
 ]},
{"width": 706, "height": 538, "title": {"text": ["Situation 4", "Task 2: Inadequate posture"]},
 "layer": [
  {"data": {"name": "grid"}, "transform": [{"filter": "datum.p == 4"}], "mark": {"type": "rule", "color": "#b4b4b4", "strokeWidth": 1.5, "clip": false},
   "encoding": {"x": {"field": "a", "type": "quantitative", "title": "Time (s)", "scale": {"domain": [0, 18.9], "nice": false}}, "x2": {"field": "b"}, "y": {"field": "y", "type": "quantitative", "title": "Acceleration (ms⁻²)", "scale": {"domain": [-20, 15], "nice": false}}}},
  {"data": {"name": "s4"}, "mark": {"type": "line", "clip": false, "strokeWidth": 1.3},
   "encoding": {"x": {"field": "t", "type": "quantitative", "title": "Time (s)", "scale": {"domain": [0, 18.9], "nice": false}, "axis": {"values": [0, 5, 10, 15]}},
    "y": {"field": "v", "type": "quantitative", "title": "Acceleration (ms⁻²)", "scale": {"domain": [-20, 15], "nice": false}, "axis": {"values": [-20, -15, -10, -5, 0, 5, 10, 15], "labelExpr": "datum.value < 0 ? '-' + abs(datum.value) : datum.label"}},
    "color": {"field": "s", "type": "nominal", "title": null, "scale": {"domain": ["AccX", "AccY", "AccZ"], "range": ["#000000", "#0000ff", "#ff0000"]}, "legend": {"orient": "none", "legendX": 2762, "legendY": -120, "encode": {"symbols": {"update": {"strokeWidth": {"value": 6}}}}}},
    "detail": {"field": "r"}}}
 ]},
{"width": 706, "height": 538, "title": {"text": ["Situation 6", "Task 3: Inadequate posture"]},
 "layer": [
  {"data": {"name": "grid"}, "transform": [{"filter": "datum.p == 6"}], "mark": {"type": "rule", "color": "#b4b4b4", "strokeWidth": 1.5, "clip": false},
   "encoding": {"x": {"field": "a", "type": "quantitative", "title": "Time (s)", "scale": {"domain": [0, 34], "nice": false}}, "x2": {"field": "b"}, "y": {"field": "y", "type": "quantitative", "title": "Acceleration (ms⁻²)", "scale": {"domain": [-2, 12], "nice": false}}}},
  {"data": {"name": "s6"}, "mark": {"type": "line", "clip": false, "strokeWidth": 1.3},
   "encoding": {"x": {"field": "t", "type": "quantitative", "title": "Time (s)", "scale": {"domain": [0, 34], "nice": false}, "axis": {"values": [0, 10, 20, 30]}},
    "y": {"field": "v", "type": "quantitative", "title": "Acceleration (ms⁻²)", "scale": {"domain": [-2, 12], "nice": false}, "axis": {"values": [-2, 0, 2, 4, 6, 8, 10, 12], "labelExpr": "datum.value < 0 ? '-' + abs(datum.value) : datum.label"}},
    "color": {"field": "s", "type": "nominal", "title": null, "scale": {"domain": ["AccX", "AccY", "AccZ"], "range": ["#000000", "#0000ff", "#ff0000"]}, "legend": {"orient": "none", "legendX": 2762, "legendY": -120, "encode": {"symbols": {"update": {"strokeWidth": {"value": 6}}}}}},
    "detail": {"field": "r"}}}
 ]}
]
}
